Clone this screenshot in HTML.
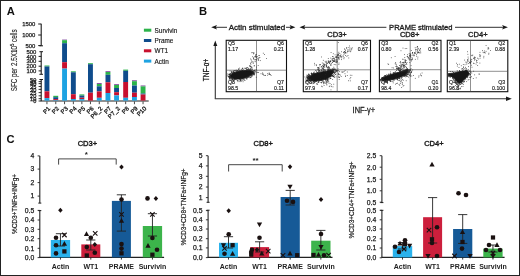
<!DOCTYPE html>
<html><head><meta charset="utf-8"><style>
html,body{margin:0;padding:0;background:#fff;}
svg{display:block;will-change:transform;}
text{font-family:"Liberation Sans",sans-serif;}
</style></head><body>
<svg width="520" height="276" viewBox="0 0 520 276">
<rect width="520" height="276" fill="#fff"/>
<rect x="0.5" y="0.5" width="519" height="275" fill="none" stroke="#222" stroke-width="1"/>
<text x="6.7" y="14.8" font-size="11.2" text-anchor="start" font-weight="bold" fill="#111" >A</text>
<g transform="translate(17.2,60.3) rotate(-90)"><g transform="scale(0.77,1)"><text x="0" y="0" font-size="8.2" text-anchor="middle" fill="#1a1a1a" stroke="#1a1a1a" stroke-width="0.12">SFC per 2.5X10<tspan font-size="5.5" dy="-3">5</tspan><tspan dy="3"> cells</tspan></text></g></g>
<line x1="41.2" y1="23.8" x2="41.2" y2="45.8" stroke="#1a1a1a" stroke-width="1.1"/>
<line x1="38.2" y1="24" x2="41.2" y2="24" stroke="#1a1a1a" stroke-width="1"/>
<text x="35.3" y="26.1" font-size="5.9" text-anchor="end" font-weight="normal" fill="#1a1a1a" stroke="#1a1a1a" stroke-width="0.25" >1500</text>
<line x1="38.2" y1="35" x2="41.2" y2="35" stroke="#1a1a1a" stroke-width="1"/>
<text x="35.3" y="37.1" font-size="5.9" text-anchor="end" font-weight="normal" fill="#1a1a1a" stroke="#1a1a1a" stroke-width="0.25" >1000</text>
<line x1="38.2" y1="45.6" x2="41.2" y2="45.6" stroke="#1a1a1a" stroke-width="1"/>
<text x="35.3" y="47.7" font-size="5.9" text-anchor="end" font-weight="normal" fill="#1a1a1a" stroke="#1a1a1a" stroke-width="0.25" >500</text>
<line x1="39.4" y1="45.8" x2="43" y2="45.8" stroke="#1a1a1a" stroke-width="1"/>
<line x1="41.2" y1="51.7" x2="41.2" y2="74.3" stroke="#1a1a1a" stroke-width="1.1"/>
<line x1="39.4" y1="51.7" x2="43" y2="51.7" stroke="#1a1a1a" stroke-width="1"/>
<text x="36.3" y="53.800000000000004" font-size="5.9" text-anchor="end" font-weight="normal" fill="#1a1a1a" stroke="#1a1a1a" stroke-width="0.25" >500</text>
<line x1="38.6" y1="56.4" x2="41.2" y2="56.4" stroke="#1a1a1a" stroke-width="1"/>
<text x="36.3" y="58.5" font-size="5.9" text-anchor="end" font-weight="normal" fill="#1a1a1a" stroke="#1a1a1a" stroke-width="0.25" >400</text>
<line x1="38.6" y1="61.3" x2="41.2" y2="61.3" stroke="#1a1a1a" stroke-width="1"/>
<text x="36.3" y="63.4" font-size="5.9" text-anchor="end" font-weight="normal" fill="#1a1a1a" stroke="#1a1a1a" stroke-width="0.25" >300</text>
<line x1="38.6" y1="66.2" x2="41.2" y2="66.2" stroke="#1a1a1a" stroke-width="1"/>
<text x="36.3" y="68.3" font-size="5.9" text-anchor="end" font-weight="normal" fill="#1a1a1a" stroke="#1a1a1a" stroke-width="0.25" >200</text>
<line x1="38.6" y1="70.9" x2="41.2" y2="70.9" stroke="#1a1a1a" stroke-width="1"/>
<text x="36.3" y="73.0" font-size="5.9" text-anchor="end" font-weight="normal" fill="#1a1a1a" stroke="#1a1a1a" stroke-width="0.25" >100</text>
<line x1="39.4" y1="74.3" x2="43" y2="74.3" stroke="#1a1a1a" stroke-width="1"/>
<line x1="41.2" y1="79.5" x2="41.2" y2="101" stroke="#1a1a1a" stroke-width="1.1"/>
<line x1="39.4" y1="79.5" x2="43" y2="79.5" stroke="#1a1a1a" stroke-width="1"/>
<text x="36.3" y="81.6" font-size="5.6" text-anchor="end" font-weight="normal" fill="#1a1a1a" stroke="#1a1a1a" stroke-width="0.25" >50</text>
<line x1="38.6" y1="81.6" x2="41.2" y2="81.6" stroke="#1a1a1a" stroke-width="0.9"/>
<text x="36.3" y="83.69999999999999" font-size="5.6" text-anchor="end" font-weight="normal" fill="#1a1a1a" stroke="#1a1a1a" stroke-width="0.25" >45</text>
<line x1="38.6" y1="83.6" x2="41.2" y2="83.6" stroke="#1a1a1a" stroke-width="0.9"/>
<text x="36.3" y="85.69999999999999" font-size="5.6" text-anchor="end" font-weight="normal" fill="#1a1a1a" stroke="#1a1a1a" stroke-width="0.25" >40</text>
<line x1="38.6" y1="86.5" x2="41.2" y2="86.5" stroke="#1a1a1a" stroke-width="0.9"/>
<text x="36.3" y="88.6" font-size="5.6" text-anchor="end" font-weight="normal" fill="#1a1a1a" stroke="#1a1a1a" stroke-width="0.25" >35</text>
<line x1="38.6" y1="89.4" x2="41.2" y2="89.4" stroke="#1a1a1a" stroke-width="0.9"/>
<text x="36.3" y="91.5" font-size="5.6" text-anchor="end" font-weight="normal" fill="#1a1a1a" stroke="#1a1a1a" stroke-width="0.25" >30</text>
<line x1="38.6" y1="92.6" x2="41.2" y2="92.6" stroke="#1a1a1a" stroke-width="0.9"/>
<text x="36.3" y="94.69999999999999" font-size="5.6" text-anchor="end" font-weight="normal" fill="#1a1a1a" stroke="#1a1a1a" stroke-width="0.25" >25</text>
<line x1="38.6" y1="95.8" x2="41.2" y2="95.8" stroke="#1a1a1a" stroke-width="0.9"/>
<text x="36.3" y="97.89999999999999" font-size="5.6" text-anchor="end" font-weight="normal" fill="#1a1a1a" stroke="#1a1a1a" stroke-width="0.25" >20</text>
<line x1="38.6" y1="98.7" x2="41.2" y2="98.7" stroke="#1a1a1a" stroke-width="0.9"/>
<text x="36.3" y="100.8" font-size="5.6" text-anchor="end" font-weight="normal" fill="#1a1a1a" stroke="#1a1a1a" stroke-width="0.25" >10</text>
<line x1="38.6" y1="101" x2="41.2" y2="101" stroke="#1a1a1a" stroke-width="0.9"/>
<text x="36.3" y="103.1" font-size="5.6" text-anchor="end" font-weight="normal" fill="#1a1a1a" stroke="#1a1a1a" stroke-width="0.25" >0</text>
<line x1="40.7" y1="101" x2="148.7" y2="101" stroke="#222" stroke-width="1.1"/>
<rect x="44.5" y="65.5" width="4.9" height="1.0" fill="#2cb34a"/>
<rect x="44.5" y="66.5" width="4.9" height="24.8" fill="#0f4c8c"/>
<rect x="44.5" y="91.3" width="4.9" height="6.8" fill="#c8102e"/>
<rect x="44.5" y="98.1" width="4.9" height="2.5" fill="#1ea3e2"/>
<line x1="46.95" y1="101.5" x2="46.95" y2="104.2" stroke="#333" stroke-width="0.9"/>
<text transform="translate(50.650000000000006,109.0) rotate(-45)" font-size="6.0" text-anchor="end" fill="#1a1a1a" stroke="#1a1a1a" stroke-width="0.3">P1</text>
<rect x="53.3" y="95.8" width="4.9" height="1.4" fill="#2cb34a"/>
<rect x="53.3" y="97.2" width="4.9" height="1.9" fill="#0f4c8c"/>
<rect x="53.3" y="99.1" width="4.9" height="1.0" fill="#c8102e"/>
<rect x="53.3" y="100.1" width="4.9" height="0.5" fill="#1ea3e2"/>
<line x1="55.75" y1="101.5" x2="55.75" y2="104.2" stroke="#333" stroke-width="0.9"/>
<text transform="translate(59.45,109.0) rotate(-45)" font-size="6.0" text-anchor="end" fill="#1a1a1a" stroke="#1a1a1a" stroke-width="0.3">P2</text>
<rect x="62.1" y="39.6" width="4.9" height="0.6" fill="#7b3f98"/>
<rect x="62.1" y="40.2" width="4.9" height="3.0" fill="#2cb34a"/>
<rect x="62.1" y="43.2" width="4.9" height="19.0" fill="#0f4c8c"/>
<rect x="62.1" y="62.2" width="4.9" height="6.4" fill="#c8102e"/>
<rect x="62.1" y="68.6" width="4.9" height="32.0" fill="#1ea3e2"/>
<line x1="64.55" y1="101.5" x2="64.55" y2="104.2" stroke="#333" stroke-width="0.9"/>
<text transform="translate(68.25,109.0) rotate(-45)" font-size="6.0" text-anchor="end" fill="#1a1a1a" stroke="#1a1a1a" stroke-width="0.3">P3</text>
<rect x="70.9" y="71.3" width="4.9" height="1.0" fill="#2cb34a"/>
<rect x="70.9" y="72.3" width="4.9" height="21.9" fill="#0f4c8c"/>
<rect x="70.9" y="94.2" width="4.9" height="4.8" fill="#c8102e"/>
<rect x="70.9" y="99" width="4.9" height="1.6" fill="#1ea3e2"/>
<line x1="73.35000000000001" y1="101.5" x2="73.35000000000001" y2="104.2" stroke="#333" stroke-width="0.9"/>
<text transform="translate(77.05000000000001,109.0) rotate(-45)" font-size="6.0" text-anchor="end" fill="#1a1a1a" stroke="#1a1a1a" stroke-width="0.3">P4</text>
<rect x="79.4" y="94.4" width="4.9" height="1.2" fill="#2cb34a"/>
<rect x="79.4" y="95.6" width="4.9" height="2.1" fill="#0f4c8c"/>
<rect x="79.4" y="97.7" width="4.9" height="1.4" fill="#c8102e"/>
<rect x="79.4" y="99.1" width="4.9" height="1.5" fill="#1ea3e2"/>
<line x1="81.85000000000001" y1="101.5" x2="81.85000000000001" y2="104.2" stroke="#333" stroke-width="0.9"/>
<text transform="translate(85.55000000000001,109.0) rotate(-45)" font-size="6.0" text-anchor="end" fill="#1a1a1a" stroke="#1a1a1a" stroke-width="0.3">P5</text>
<rect x="88.0" y="63.2" width="4.9" height="1.0" fill="#2cb34a"/>
<rect x="88.0" y="64.2" width="4.9" height="28.5" fill="#0f4c8c"/>
<rect x="88.0" y="92.7" width="4.9" height="7.9" fill="#c8102e"/>
<line x1="90.45" y1="101.5" x2="90.45" y2="104.2" stroke="#333" stroke-width="0.9"/>
<text transform="translate(94.15,109.0) rotate(-45)" font-size="6.0" text-anchor="end" fill="#1a1a1a" stroke="#1a1a1a" stroke-width="0.3">P6</text>
<rect x="96.8" y="83.1" width="4.9" height="0.9" fill="#7b3f98"/>
<rect x="96.8" y="84.0" width="4.9" height="2.3" fill="#2cb34a"/>
<rect x="96.8" y="86.3" width="4.9" height="5.1" fill="#0f4c8c"/>
<rect x="96.8" y="91.4" width="4.9" height="6.4" fill="#c8102e"/>
<rect x="96.8" y="97.8" width="4.9" height="2.8" fill="#1ea3e2"/>
<line x1="99.25" y1="101.5" x2="99.25" y2="104.2" stroke="#333" stroke-width="0.9"/>
<text transform="translate(102.95,109.0) rotate(-45)" font-size="6.0" text-anchor="end" fill="#1a1a1a" stroke="#1a1a1a" stroke-width="0.3">P6_2</text>
<rect x="105.5" y="71.2" width="4.9" height="0.8" fill="#7b3f98"/>
<rect x="105.5" y="72.0" width="4.9" height="2.8" fill="#2cb34a"/>
<rect x="105.5" y="74.8" width="4.9" height="7.5" fill="#0f4c8c"/>
<rect x="105.5" y="82.3" width="4.9" height="10.7" fill="#c8102e"/>
<rect x="105.5" y="93" width="4.9" height="7.6" fill="#1ea3e2"/>
<line x1="107.95" y1="101.5" x2="107.95" y2="104.2" stroke="#333" stroke-width="0.9"/>
<text transform="translate(111.65,109.0) rotate(-45)" font-size="6.0" text-anchor="end" fill="#1a1a1a" stroke="#1a1a1a" stroke-width="0.3">P7</text>
<rect x="114.1" y="84.2" width="4.9" height="0.8" fill="#7b3f98"/>
<rect x="114.1" y="85.0" width="4.9" height="3.0" fill="#2cb34a"/>
<rect x="114.1" y="88" width="4.9" height="4.2" fill="#0f4c8c"/>
<rect x="114.1" y="92.2" width="4.9" height="3.2" fill="#c8102e"/>
<rect x="114.1" y="95.4" width="4.9" height="5.2" fill="#1ea3e2"/>
<line x1="116.55" y1="101.5" x2="116.55" y2="104.2" stroke="#333" stroke-width="0.9"/>
<text transform="translate(120.25,109.0) rotate(-45)" font-size="6.0" text-anchor="end" fill="#1a1a1a" stroke="#1a1a1a" stroke-width="0.3">P7_2</text>
<rect x="123.2" y="69.6" width="4.9" height="1.2" fill="#2cb34a"/>
<rect x="123.2" y="70.8" width="4.9" height="11.2" fill="#0f4c8c"/>
<rect x="123.2" y="82" width="4.9" height="15.8" fill="#c8102e"/>
<rect x="123.2" y="97.8" width="4.9" height="2.8" fill="#1ea3e2"/>
<line x1="125.65" y1="101.5" x2="125.65" y2="104.2" stroke="#333" stroke-width="0.9"/>
<text transform="translate(129.35,109.0) rotate(-45)" font-size="6.0" text-anchor="end" fill="#1a1a1a" stroke="#1a1a1a" stroke-width="0.3">P8</text>
<rect x="132.0" y="80.3" width="4.9" height="0.9" fill="#7b3f98"/>
<rect x="132.0" y="81.2" width="4.9" height="4.3" fill="#2cb34a"/>
<rect x="132.0" y="85.5" width="4.9" height="7.2" fill="#0f4c8c"/>
<rect x="132.0" y="92.7" width="4.9" height="4.3" fill="#c8102e"/>
<rect x="132.0" y="97" width="4.9" height="3.6" fill="#1ea3e2"/>
<line x1="134.45" y1="101.5" x2="134.45" y2="104.2" stroke="#333" stroke-width="0.9"/>
<text transform="translate(138.14999999999998,109.0) rotate(-45)" font-size="6.0" text-anchor="end" fill="#1a1a1a" stroke="#1a1a1a" stroke-width="0.3">P9</text>
<rect x="140.6" y="85.5" width="4.9" height="0.9" fill="#7b3f98"/>
<rect x="140.6" y="86.4" width="4.9" height="7.1" fill="#2cb34a"/>
<rect x="140.6" y="93.5" width="4.9" height="1.0" fill="#0f4c8c"/>
<rect x="140.6" y="94.5" width="4.9" height="6.1" fill="#c8102e"/>
<line x1="143.04999999999998" y1="101.5" x2="143.04999999999998" y2="104.2" stroke="#333" stroke-width="0.9"/>
<text transform="translate(146.74999999999997,109.0) rotate(-45)" font-size="6.0" text-anchor="end" fill="#1a1a1a" stroke="#1a1a1a" stroke-width="0.3">P10</text>
<rect x="143.9" y="28.7" width="7.4" height="3.0" fill="#2cb34a"/>
<text x="154.6" y="32.7" font-size="6.4" text-anchor="start" font-weight="normal" fill="#1a1a1a" stroke="#1a1a1a" stroke-width="0.15" >Survivin</text>
<rect x="143.9" y="39.0" width="7.4" height="3.0" fill="#0f4c8c"/>
<text x="154.6" y="43.0" font-size="6.4" text-anchor="start" font-weight="normal" fill="#1a1a1a" stroke="#1a1a1a" stroke-width="0.15" >Prame</text>
<rect x="143.9" y="49.3" width="7.4" height="3.0" fill="#c8102e"/>
<text x="154.6" y="53.3" font-size="6.4" text-anchor="start" font-weight="normal" fill="#1a1a1a" stroke="#1a1a1a" stroke-width="0.15" >WT1</text>
<rect x="143.9" y="59.6" width="7.4" height="3.0" fill="#1ea3e2"/>
<text x="154.6" y="63.6" font-size="6.4" text-anchor="start" font-weight="normal" fill="#1a1a1a" stroke="#1a1a1a" stroke-width="0.15" >Actin</text>
<text x="198.9" y="14.8" font-size="11.2" text-anchor="start" font-weight="bold" fill="#111" >B</text>
<path d="M211.2,27.3 L217.0,25.1 L215.79999999999998,27.3 L217.0,29.5 Z" fill="#1a1a1a"/>
<line x1="214" y1="27.3" x2="227" y2="27.3" stroke="#1a1a1a" stroke-width="0.9"/>
<text x="257.0" y="30.0" font-size="7.8" text-anchor="middle" font-weight="normal" fill="#1a1a1a" stroke="#1a1a1a" stroke-width="0.3" textLength="56.6" lengthAdjust="spacingAndGlyphs">Actin stimulated</text>
<line x1="286" y1="27.3" x2="293" y2="27.3" stroke="#1a1a1a" stroke-width="0.9"/>
<path d="M295.4,27.3 L289.59999999999997,25.1 L290.79999999999995,27.3 L289.59999999999997,29.5 Z" fill="#1a1a1a"/>
<path d="M299.5,27.3 L305.3,25.1 L304.1,27.3 L305.3,29.5 Z" fill="#1a1a1a"/>
<line x1="302" y1="27.3" x2="386.4" y2="27.3" stroke="#1a1a1a" stroke-width="0.9"/>
<text x="420.8" y="30.0" font-size="7.6" text-anchor="middle" font-weight="normal" fill="#1a1a1a" stroke="#1a1a1a" stroke-width="0.3" textLength="63.4" lengthAdjust="spacingAndGlyphs">PRAME stimulated</text>
<line x1="455" y1="27.3" x2="505" y2="27.3" stroke="#1a1a1a" stroke-width="0.9"/>
<path d="M507.9,27.3 L502.09999999999997,25.1 L503.29999999999995,27.3 L502.09999999999997,29.5 Z" fill="#1a1a1a"/>
<text x="337" y="36.8" font-size="7.7" text-anchor="middle" font-weight="normal" fill="#1a1a1a" stroke="#1a1a1a" stroke-width="0.35" textLength="19.6" lengthAdjust="spacingAndGlyphs">CD3+</text>
<text x="409.7" y="36.8" font-size="7.7" text-anchor="middle" font-weight="normal" fill="#1a1a1a" stroke="#1a1a1a" stroke-width="0.35" textLength="19.6" lengthAdjust="spacingAndGlyphs">CD8+</text>
<text x="477.8" y="36.8" font-size="7.7" text-anchor="middle" font-weight="normal" fill="#1a1a1a" stroke="#1a1a1a" stroke-width="0.35" textLength="19.6" lengthAdjust="spacingAndGlyphs">CD4+</text>
<line x1="215.3" y1="43" x2="215.3" y2="98.8" stroke="#333" stroke-width="1.1"/>
<path d="M215.3,40.6 L213.3,46 L217.3,46 Z" fill="#1a1a1a"/>
<line x1="214.8" y1="98.8" x2="508" y2="98.8" stroke="#333" stroke-width="1.1"/>
<path d="M511.8,98.8 L506,96.6 L506,101 Z" fill="#1a1a1a"/>
<g transform="translate(209.1,69.9) rotate(-90)"><g transform="scale(0.80,1)"><text x="0" y="0" font-size="8.2" text-anchor="middle" fill="#1a1a1a" stroke="#1a1a1a" stroke-width="0.25">TNF-α+</text></g></g>
<g transform="translate(363.9,112.8)"><g transform="scale(0.87,1)"><text x="0" y="0" font-size="8.6" text-anchor="middle" fill="#1a1a1a" stroke="#1a1a1a" stroke-width="0.25">INF-γ+</text></g></g>
<rect x="226.2" y="40.3" width="60.30000000000001" height="51.400000000000006" fill="none" stroke="#111" stroke-width="1.1"/>
<line x1="256.5" y1="40.3" x2="256.5" y2="91.7" stroke="#444" stroke-width="0.6"/>
<line x1="226.2" y1="70.2" x2="286.5" y2="70.2" stroke="#444" stroke-width="0.6"/>
<polygon points="230,75.2 233,73.2 236,71.9 240,71.0 244,70.6 250,70.6 253.4,71.8 252,74.5 248,76.8 244,78.2 240,79.0 234,79.1 230.6,77.5" fill="#161616" stroke="#161616" stroke-width="0.8" stroke-linejoin="round"/>
<rect x="228.9" y="74.9" width="0.75" height="0.75" fill="#222"/>
<rect x="244.8" y="77.6" width="0.75" height="0.75" fill="#222"/>
<rect x="233.0" y="71.9" width="0.75" height="0.75" fill="#222"/>
<rect x="253.0" y="72.5" width="0.75" height="0.75" fill="#222"/>
<rect x="238.8" y="81.3" width="0.75" height="0.75" fill="#222"/>
<rect x="247.7" y="75.6" width="0.75" height="0.75" fill="#222"/>
<rect x="235.1" y="78.7" width="0.75" height="0.75" fill="#222"/>
<rect x="232.1" y="78.8" width="0.75" height="0.75" fill="#222"/>
<rect x="252.9" y="73.7" width="0.75" height="0.75" fill="#222"/>
<rect x="229.0" y="74.3" width="0.75" height="0.75" fill="#222"/>
<rect x="252.2" y="73.7" width="0.75" height="0.75" fill="#222"/>
<rect x="232.4" y="71.6" width="0.75" height="0.75" fill="#222"/>
<rect x="239.1" y="71.3" width="0.75" height="0.75" fill="#222"/>
<rect x="233.9" y="72.0" width="0.75" height="0.75" fill="#222"/>
<rect x="251.4" y="75.2" width="0.75" height="0.75" fill="#222"/>
<rect x="252.0" y="69.2" width="0.75" height="0.75" fill="#222"/>
<rect x="231.1" y="72.1" width="0.75" height="0.75" fill="#222"/>
<rect x="246.4" y="77.3" width="0.75" height="0.75" fill="#222"/>
<rect x="240.3" y="69.9" width="0.75" height="0.75" fill="#222"/>
<rect x="251.4" y="75.3" width="0.75" height="0.75" fill="#222"/>
<rect x="229.8" y="76.2" width="0.75" height="0.75" fill="#222"/>
<rect x="231.7" y="79.3" width="0.75" height="0.75" fill="#222"/>
<rect x="253.5" y="71.5" width="0.75" height="0.75" fill="#222"/>
<rect x="229.0" y="76.8" width="0.75" height="0.75" fill="#222"/>
<rect x="230.1" y="77.5" width="0.75" height="0.75" fill="#222"/>
<rect x="252.7" y="71.6" width="0.75" height="0.75" fill="#222"/>
<rect x="230.6" y="77.3" width="0.75" height="0.75" fill="#222"/>
<rect x="254.4" y="69.9" width="0.75" height="0.75" fill="#222"/>
<rect x="230.6" y="79.6" width="0.75" height="0.75" fill="#222"/>
<rect x="245.3" y="70.6" width="0.75" height="0.75" fill="#222"/>
<rect x="237.3" y="70.3" width="0.75" height="0.75" fill="#222"/>
<rect x="228.9" y="75.6" width="0.75" height="0.75" fill="#222"/>
<rect x="244.6" y="80.1" width="0.75" height="0.75" fill="#222"/>
<rect x="231.6" y="78.7" width="0.75" height="0.75" fill="#222"/>
<rect x="234.8" y="70.7" width="0.75" height="0.75" fill="#222"/>
<rect x="250.0" y="77.1" width="0.75" height="0.75" fill="#222"/>
<rect x="251.2" y="75.8" width="0.75" height="0.75" fill="#222"/>
<rect x="230.8" y="71.7" width="0.75" height="0.75" fill="#222"/>
<rect x="250.8" y="70.1" width="0.75" height="0.75" fill="#222"/>
<rect x="246.5" y="78.9" width="0.75" height="0.75" fill="#222"/>
<rect x="239.8" y="79.6" width="0.75" height="0.75" fill="#222"/>
<rect x="239.4" y="79.4" width="0.75" height="0.75" fill="#222"/>
<rect x="228.4" y="76.4" width="0.75" height="0.75" fill="#222"/>
<rect x="238.4" y="71.0" width="0.75" height="0.75" fill="#222"/>
<rect x="230.7" y="77.2" width="0.75" height="0.75" fill="#222"/>
<rect x="253.5" y="73.7" width="0.75" height="0.75" fill="#222"/>
<rect x="231.2" y="79.8" width="0.75" height="0.75" fill="#222"/>
<rect x="229.4" y="77.4" width="0.75" height="0.75" fill="#222"/>
<rect x="250.5" y="69.9" width="0.75" height="0.75" fill="#222"/>
<rect x="235.6" y="78.3" width="0.75" height="0.75" fill="#222"/>
<rect x="252.1" y="70.5" width="0.75" height="0.75" fill="#222"/>
<rect x="246.1" y="78.2" width="0.75" height="0.75" fill="#222"/>
<rect x="250.1" y="68.8" width="0.75" height="0.75" fill="#222"/>
<rect x="230.2" y="73.9" width="0.75" height="0.75" fill="#222"/>
<rect x="250.2" y="75.5" width="0.75" height="0.75" fill="#222"/>
<rect x="229.7" y="70.6" width="0.75" height="0.75" fill="#222"/>
<rect x="243.2" y="79.0" width="0.75" height="0.75" fill="#222"/>
<rect x="242.9" y="68.9" width="0.75" height="0.75" fill="#222"/>
<rect x="233.5" y="78.8" width="0.75" height="0.75" fill="#222"/>
<rect x="231.8" y="71.8" width="0.75" height="0.75" fill="#222"/>
<rect x="231.9" y="77.6" width="0.75" height="0.75" fill="#222"/>
<rect x="233.6" y="70.5" width="0.75" height="0.75" fill="#222"/>
<rect x="232.0" y="78.4" width="0.75" height="0.75" fill="#222"/>
<rect x="247.3" y="77.4" width="0.75" height="0.75" fill="#222"/>
<rect x="249.5" y="77.4" width="0.75" height="0.75" fill="#222"/>
<rect x="228.9" y="78.9" width="0.75" height="0.75" fill="#222"/>
<rect x="233.4" y="72.2" width="0.75" height="0.75" fill="#222"/>
<rect x="233.2" y="80.4" width="0.75" height="0.75" fill="#222"/>
<rect x="245.8" y="68.0" width="0.75" height="0.75" fill="#222"/>
<rect x="253.4" y="70.7" width="0.75" height="0.75" fill="#222"/>
<rect x="241.3" y="69.5" width="0.75" height="0.75" fill="#222"/>
<rect x="232.2" y="79.0" width="0.75" height="0.75" fill="#222"/>
<rect x="239.3" y="67.7" width="0.75" height="0.75" fill="#222"/>
<rect x="233.6" y="72.5" width="0.75" height="0.75" fill="#222"/>
<rect x="240.1" y="79.0" width="0.75" height="0.75" fill="#222"/>
<rect x="235.8" y="69.7" width="0.75" height="0.75" fill="#222"/>
<rect x="239.8" y="79.9" width="0.75" height="0.75" fill="#222"/>
<rect x="229.2" y="74.1" width="0.75" height="0.75" fill="#222"/>
<rect x="237.5" y="80.0" width="0.75" height="0.75" fill="#222"/>
<rect x="234.4" y="72.0" width="0.75" height="0.75" fill="#222"/>
<rect x="235.6" y="79.2" width="0.75" height="0.75" fill="#222"/>
<rect x="252.9" y="73.1" width="0.75" height="0.75" fill="#222"/>
<rect x="250.7" y="77.3" width="0.75" height="0.75" fill="#222"/>
<rect x="241.0" y="78.2" width="0.75" height="0.75" fill="#222"/>
<rect x="248.8" y="70.2" width="0.75" height="0.75" fill="#222"/>
<rect x="233.4" y="79.7" width="0.75" height="0.75" fill="#222"/>
<rect x="242.9" y="78.1" width="0.75" height="0.75" fill="#222"/>
<rect x="236.8" y="79.9" width="0.75" height="0.75" fill="#222"/>
<rect x="254.1" y="74.5" width="0.75" height="0.75" fill="#222"/>
<rect x="233.4" y="70.6" width="0.75" height="0.75" fill="#222"/>
<rect x="241.8" y="68.3" width="0.75" height="0.75" fill="#222"/>
<rect x="240.9" y="80.7" width="0.75" height="0.75" fill="#222"/>
<rect x="246.9" y="67.3" width="0.75" height="0.75" fill="#222"/>
<rect x="242.7" y="81.4" width="0.75" height="0.75" fill="#222"/>
<rect x="255.0" y="70.9" width="0.75" height="0.75" fill="#222"/>
<rect x="245.7" y="76.8" width="0.75" height="0.75" fill="#222"/>
<rect x="229.1" y="73.5" width="0.75" height="0.75" fill="#222"/>
<rect x="252.2" y="72.3" width="0.75" height="0.75" fill="#222"/>
<rect x="239.0" y="69.7" width="0.75" height="0.75" fill="#222"/>
<rect x="248.9" y="69.5" width="0.75" height="0.75" fill="#222"/>
<rect x="244.3" y="77.5" width="0.75" height="0.75" fill="#222"/>
<rect x="231.0" y="78.2" width="0.75" height="0.75" fill="#222"/>
<rect x="253.2" y="73.4" width="0.75" height="0.75" fill="#222"/>
<rect x="229.6" y="78.1" width="0.75" height="0.75" fill="#222"/>
<rect x="230.0" y="78.6" width="0.75" height="0.75" fill="#222"/>
<rect x="247.0" y="77.2" width="0.75" height="0.75" fill="#222"/>
<rect x="242.2" y="69.9" width="0.75" height="0.75" fill="#222"/>
<rect x="251.6" y="68.1" width="0.75" height="0.75" fill="#222"/>
<rect x="243.9" y="67.8" width="0.75" height="0.75" fill="#222"/>
<rect x="227.5" y="75.3" width="0.75" height="0.75" fill="#222"/>
<rect x="256.2" y="68.8" width="0.75" height="0.75" fill="#222"/>
<rect x="252.0" y="72.9" width="0.75" height="0.75" fill="#222"/>
<rect x="249.7" y="69.2" width="0.75" height="0.75" fill="#222"/>
<rect x="249.1" y="75.6" width="0.75" height="0.75" fill="#222"/>
<rect x="241.6" y="70.9" width="0.75" height="0.75" fill="#222"/>
<rect x="229.1" y="74.0" width="0.75" height="0.75" fill="#222"/>
<rect x="229.5" y="76.4" width="0.75" height="0.75" fill="#222"/>
<rect x="236.4" y="70.7" width="0.75" height="0.75" fill="#222"/>
<rect x="233.8" y="71.7" width="0.75" height="0.75" fill="#222"/>
<rect x="227.8" y="74.2" width="0.75" height="0.75" fill="#222"/>
<rect x="246.5" y="70.1" width="0.75" height="0.75" fill="#222"/>
<rect x="246.6" y="68.9" width="0.75" height="0.75" fill="#222"/>
<rect x="234.6" y="70.3" width="0.75" height="0.75" fill="#222"/>
<rect x="230.4" y="73.3" width="0.75" height="0.75" fill="#222"/>
<rect x="241.5" y="69.7" width="0.75" height="0.75" fill="#222"/>
<rect x="237.9" y="69.7" width="0.75" height="0.75" fill="#222"/>
<rect x="229.4" y="78.3" width="0.75" height="0.75" fill="#222"/>
<rect x="232.3" y="72.5" width="0.75" height="0.75" fill="#222"/>
<rect x="233.3" y="71.0" width="0.75" height="0.75" fill="#222"/>
<rect x="256.6" y="70.6" width="0.75" height="0.75" fill="#222"/>
<rect x="253.6" y="74.4" width="0.75" height="0.75" fill="#222"/>
<rect x="240.2" y="80.2" width="0.75" height="0.75" fill="#222"/>
<rect x="232.5" y="79.1" width="0.75" height="0.75" fill="#222"/>
<rect x="229.9" y="73.0" width="0.75" height="0.75" fill="#222"/>
<rect x="238.8" y="70.0" width="0.75" height="0.75" fill="#222"/>
<rect x="227.5" y="73.5" width="0.75" height="0.75" fill="#222"/>
<rect x="237.5" y="79.9" width="0.75" height="0.75" fill="#222"/>
<rect x="253.6" y="73.4" width="0.75" height="0.75" fill="#222"/>
<rect x="232.5" y="73.0" width="0.75" height="0.75" fill="#222"/>
<rect x="230.8" y="78.3" width="0.75" height="0.75" fill="#222"/>
<rect x="249.0" y="70.1" width="0.75" height="0.75" fill="#222"/>
<rect x="252.3" y="73.6" width="0.75" height="0.75" fill="#222"/>
<rect x="240.4" y="81.3" width="0.75" height="0.75" fill="#222"/>
<rect x="229.1" y="78.1" width="0.75" height="0.75" fill="#222"/>
<rect x="254.7" y="71.7" width="0.75" height="0.75" fill="#222"/>
<rect x="241.6" y="78.9" width="0.75" height="0.75" fill="#222"/>
<rect x="228.8" y="74.2" width="0.75" height="0.75" fill="#222"/>
<rect x="254.0" y="70.7" width="0.75" height="0.75" fill="#222"/>
<rect x="231.4" y="70.8" width="0.75" height="0.75" fill="#222"/>
<rect x="252.4" y="72.5" width="0.75" height="0.75" fill="#222"/>
<rect x="252.7" y="73.0" width="0.75" height="0.75" fill="#222"/>
<rect x="230.1" y="77.4" width="0.75" height="0.75" fill="#222"/>
<rect x="247.5" y="69.6" width="0.75" height="0.75" fill="#222"/>
<rect x="235.9" y="78.6" width="0.75" height="0.75" fill="#222"/>
<rect x="247.4" y="69.2" width="0.75" height="0.75" fill="#222"/>
<rect x="237.0" y="70.0" width="0.75" height="0.75" fill="#222"/>
<rect x="238.2" y="71.0" width="0.75" height="0.75" fill="#222"/>
<rect x="241.7" y="80.0" width="0.75" height="0.75" fill="#222"/>
<rect x="248.3" y="76.9" width="0.75" height="0.75" fill="#222"/>
<rect x="234.6" y="70.2" width="0.75" height="0.75" fill="#222"/>
<rect x="229.1" y="77.4" width="0.75" height="0.75" fill="#222"/>
<rect x="227.7" y="76.1" width="0.75" height="0.75" fill="#222"/>
<rect x="251.0" y="73.7" width="0.75" height="0.75" fill="#222"/>
<rect x="242.0" y="70.3" width="0.75" height="0.75" fill="#222"/>
<rect x="246.8" y="69.8" width="0.75" height="0.75" fill="#222"/>
<rect x="253.1" y="72.0" width="0.75" height="0.75" fill="#222"/>
<rect x="231.2" y="71.5" width="0.75" height="0.75" fill="#222"/>
<rect x="245.7" y="70.1" width="0.75" height="0.75" fill="#222"/>
<rect x="231.1" y="72.8" width="0.75" height="0.75" fill="#222"/>
<rect x="252.2" y="71.3" width="0.75" height="0.75" fill="#222"/>
<rect x="248.9" y="69.6" width="0.75" height="0.75" fill="#222"/>
<rect x="237.5" y="81.3" width="0.75" height="0.75" fill="#222"/>
<rect x="253.7" y="73.5" width="0.75" height="0.75" fill="#222"/>
<rect x="229.2" y="74.2" width="0.75" height="0.75" fill="#222"/>
<rect x="229.1" y="76.1" width="0.75" height="0.75" fill="#222"/>
<rect x="229.0" y="77.1" width="0.75" height="0.75" fill="#222"/>
<rect x="245.6" y="77.8" width="0.75" height="0.75" fill="#222"/>
<rect x="238.3" y="69.3" width="0.75" height="0.75" fill="#222"/>
<rect x="254.7" y="69.5" width="0.75" height="0.75" fill="#222"/>
<rect x="232.0" y="72.9" width="0.75" height="0.75" fill="#222"/>
<rect x="252.8" y="70.3" width="0.75" height="0.75" fill="#222"/>
<rect x="252.4" y="72.9" width="0.75" height="0.75" fill="#222"/>
<rect x="242.3" y="68.2" width="0.75" height="0.75" fill="#222"/>
<rect x="236.4" y="71.4" width="0.75" height="0.75" fill="#222"/>
<rect x="241.7" y="79.4" width="0.75" height="0.75" fill="#222"/>
<rect x="244.1" y="78.8" width="0.75" height="0.75" fill="#222"/>
<rect x="250.5" y="74.2" width="0.75" height="0.75" fill="#222"/>
<rect x="251.6" y="76.0" width="0.75" height="0.75" fill="#222"/>
<rect x="242.3" y="67.7" width="0.75" height="0.75" fill="#222"/>
<rect x="253.5" y="73.9" width="0.75" height="0.75" fill="#222"/>
<rect x="246.5" y="69.3" width="0.75" height="0.75" fill="#222"/>
<rect x="235.9" y="70.0" width="0.75" height="0.75" fill="#222"/>
<rect x="228.6" y="76.9" width="0.75" height="0.75" fill="#222"/>
<rect x="228.5" y="76.5" width="0.75" height="0.75" fill="#222"/>
<rect x="233.4" y="72.8" width="0.75" height="0.75" fill="#222"/>
<rect x="243.7" y="79.9" width="0.75" height="0.75" fill="#222"/>
<rect x="231.8" y="77.4" width="0.75" height="0.75" fill="#222"/>
<rect x="228.4" y="76.1" width="0.75" height="0.75" fill="#222"/>
<rect x="241.7" y="69.8" width="0.75" height="0.75" fill="#222"/>
<rect x="233.0" y="71.6" width="0.75" height="0.75" fill="#222"/>
<rect x="232.4" y="73.0" width="0.75" height="0.75" fill="#222"/>
<rect x="234.4" y="79.0" width="0.75" height="0.75" fill="#222"/>
<rect x="238.3" y="68.4" width="0.75" height="0.75" fill="#222"/>
<rect x="239.9" y="79.0" width="0.75" height="0.75" fill="#222"/>
<rect x="252.0" y="73.8" width="0.75" height="0.75" fill="#222"/>
<rect x="252.9" y="70.6" width="0.75" height="0.75" fill="#222"/>
<rect x="228.9" y="76.2" width="0.75" height="0.75" fill="#222"/>
<rect x="246.6" y="78.1" width="0.75" height="0.75" fill="#222"/>
<rect x="234.1" y="78.7" width="0.75" height="0.75" fill="#222"/>
<rect x="250.4" y="70.2" width="0.75" height="0.75" fill="#222"/>
<rect x="252.7" y="73.0" width="0.75" height="0.75" fill="#222"/>
<rect x="241.9" y="78.0" width="0.75" height="0.75" fill="#222"/>
<rect x="251.7" y="75.0" width="0.75" height="0.75" fill="#222"/>
<rect x="240.3" y="79.9" width="0.75" height="0.75" fill="#222"/>
<rect x="254.3" y="72.8" width="0.75" height="0.75" fill="#222"/>
<rect x="249.7" y="76.5" width="0.75" height="0.75" fill="#222"/>
<rect x="230.1" y="73.8" width="0.75" height="0.75" fill="#222"/>
<rect x="249.4" y="76.5" width="0.75" height="0.75" fill="#222"/>
<rect x="248.1" y="76.7" width="0.75" height="0.75" fill="#222"/>
<rect x="256.6" y="56.5" width="0.75" height="0.75" fill="#222"/>
<rect x="250.4" y="68.1" width="0.75" height="0.75" fill="#222"/>
<rect x="251.3" y="66.8" width="0.75" height="0.75" fill="#222"/>
<rect x="251.4" y="69.7" width="0.75" height="0.75" fill="#222"/>
<rect x="255.3" y="54.9" width="0.75" height="0.75" fill="#222"/>
<rect x="249.4" y="70.4" width="0.75" height="0.75" fill="#222"/>
<rect x="248.4" y="68.4" width="0.75" height="0.75" fill="#222"/>
<rect x="252.5" y="61.4" width="0.75" height="0.75" fill="#222"/>
<rect x="250.5" y="63.8" width="0.75" height="0.75" fill="#222"/>
<rect x="254.7" y="60.6" width="0.75" height="0.75" fill="#222"/>
<rect x="256.1" y="66.7" width="0.75" height="0.75" fill="#222"/>
<rect x="259.5" y="57.1" width="0.75" height="0.75" fill="#222"/>
<rect x="253.0" y="58.7" width="0.75" height="0.75" fill="#222"/>
<rect x="256.7" y="56.1" width="0.75" height="0.75" fill="#222"/>
<rect x="252.8" y="63.2" width="0.75" height="0.75" fill="#222"/>
<rect x="250.3" y="58.6" width="0.75" height="0.75" fill="#222"/>
<rect x="245.8" y="67.2" width="0.75" height="0.75" fill="#222"/>
<rect x="248.3" y="69.8" width="0.75" height="0.75" fill="#222"/>
<rect x="255.9" y="54.3" width="0.75" height="0.75" fill="#222"/>
<rect x="247.5" y="67.5" width="0.75" height="0.75" fill="#222"/>
<rect x="247.9" y="68.9" width="0.75" height="0.75" fill="#222"/>
<rect x="251.4" y="60.8" width="0.75" height="0.75" fill="#222"/>
<rect x="248.0" y="68.6" width="0.75" height="0.75" fill="#222"/>
<rect x="252.3" y="56.4" width="0.75" height="0.75" fill="#222"/>
<rect x="249.6" y="68.8" width="0.75" height="0.75" fill="#222"/>
<rect x="254.8" y="61.4" width="0.75" height="0.75" fill="#222"/>
<rect x="255.9" y="56.6" width="0.75" height="0.75" fill="#222"/>
<rect x="250.8" y="62.2" width="0.75" height="0.75" fill="#222"/>
<rect x="252.7" y="61.9" width="0.75" height="0.75" fill="#222"/>
<rect x="254.4" y="58.9" width="0.75" height="0.75" fill="#222"/>
<rect x="252.5" y="52.2" width="0.75" height="0.75" fill="#222"/>
<rect x="253.9" y="65.3" width="0.75" height="0.75" fill="#222"/>
<rect x="253.2" y="57.4" width="0.75" height="0.75" fill="#222"/>
<rect x="250.9" y="59.6" width="0.75" height="0.75" fill="#222"/>
<rect x="257.8" y="65.0" width="0.75" height="0.75" fill="#222"/>
<rect x="250.2" y="62.9" width="0.75" height="0.75" fill="#222"/>
<rect x="250.4" y="66.5" width="0.75" height="0.75" fill="#222"/>
<rect x="249.7" y="65.7" width="0.75" height="0.75" fill="#222"/>
<rect x="253.8" y="65.6" width="0.75" height="0.75" fill="#222"/>
<rect x="255.5" y="54.4" width="0.75" height="0.75" fill="#222"/>
<rect x="253.5" y="52.5" width="0.75" height="0.75" fill="#222"/>
<rect x="245.4" y="68.0" width="0.75" height="0.75" fill="#222"/>
<rect x="248.6" y="69.7" width="0.75" height="0.75" fill="#222"/>
<rect x="254.4" y="70.0" width="0.75" height="0.75" fill="#222"/>
<rect x="249.0" y="65.6" width="0.75" height="0.75" fill="#222"/>
<rect x="257.5" y="58.2" width="0.75" height="0.75" fill="#222"/>
<rect x="249.6" y="65.4" width="0.75" height="0.75" fill="#222"/>
<rect x="246.4" y="69.3" width="0.75" height="0.75" fill="#222"/>
<rect x="251.4" y="52.4" width="0.75" height="0.75" fill="#222"/>
<rect x="255.0" y="56.0" width="0.75" height="0.75" fill="#222"/>
<rect x="251.6" y="66.9" width="0.75" height="0.75" fill="#222"/>
<rect x="250.8" y="66.6" width="0.75" height="0.75" fill="#222"/>
<rect x="245.6" y="68.0" width="0.75" height="0.75" fill="#222"/>
<rect x="253.2" y="58.0" width="0.75" height="0.75" fill="#222"/>
<rect x="250.8" y="69.1" width="0.75" height="0.75" fill="#222"/>
<rect x="250.0" y="66.2" width="0.75" height="0.75" fill="#222"/>
<rect x="255.3" y="59.0" width="0.75" height="0.75" fill="#222"/>
<rect x="254.0" y="71.8" width="0.75" height="0.75" fill="#222"/>
<rect x="253.5" y="52.8" width="0.75" height="0.75" fill="#222"/>
<rect x="259.9" y="60.3" width="0.75" height="0.75" fill="#222"/>
<rect x="268.8" y="72.6" width="0.75" height="0.75" fill="#222"/>
<rect x="269.0" y="74.1" width="0.75" height="0.75" fill="#222"/>
<rect x="268.6" y="74.0" width="0.75" height="0.75" fill="#222"/>
<rect x="264.9" y="75.1" width="0.75" height="0.75" fill="#222"/>
<rect x="255.8" y="72.4" width="0.75" height="0.75" fill="#222"/>
<rect x="262.3" y="73.6" width="0.75" height="0.75" fill="#222"/>
<rect x="270.0" y="74.2" width="0.75" height="0.75" fill="#222"/>
<rect x="254.4" y="73.5" width="0.75" height="0.75" fill="#222"/>
<rect x="267.3" y="74.8" width="0.75" height="0.75" fill="#222"/>
<rect x="260.6" y="73.4" width="0.75" height="0.75" fill="#222"/>
<rect x="263.6" y="75.0" width="0.75" height="0.75" fill="#222"/>
<rect x="252.5" y="74.8" width="0.75" height="0.75" fill="#222"/>
<rect x="268.9" y="73.2" width="0.75" height="0.75" fill="#222"/>
<rect x="252.3" y="71.7" width="0.75" height="0.75" fill="#222"/>
<rect x="258.1" y="72.2" width="0.75" height="0.75" fill="#222"/>
<rect x="262.3" y="72.5" width="0.75" height="0.75" fill="#222"/>
<rect x="257.2" y="72.1" width="0.75" height="0.75" fill="#222"/>
<rect x="262.8" y="73.7" width="0.75" height="0.75" fill="#222"/>
<rect x="264.7" y="74.9" width="0.75" height="0.75" fill="#222"/>
<rect x="267.4" y="73.1" width="0.75" height="0.75" fill="#222"/>
<rect x="270.7" y="75.0" width="0.75" height="0.75" fill="#222"/>
<rect x="253.4" y="72.1" width="0.75" height="0.75" fill="#222"/>
<rect x="255.9" y="76.8" width="0.75" height="0.75" fill="#222"/>
<rect x="262.7" y="74.0" width="0.75" height="0.75" fill="#222"/>
<rect x="252.6" y="73.7" width="0.75" height="0.75" fill="#222"/>
<rect x="254.6" y="56.6" width="0.75" height="0.75" fill="#222"/>
<rect x="262.9" y="52.8" width="0.75" height="0.75" fill="#222"/>
<rect x="256.6" y="59.5" width="0.75" height="0.75" fill="#222"/>
<rect x="258.7" y="55.3" width="0.75" height="0.75" fill="#222"/>
<rect x="258.8" y="57.5" width="0.75" height="0.75" fill="#222"/>
<rect x="266.0" y="58.0" width="0.75" height="0.75" fill="#222"/>
<rect x="255.7" y="56.9" width="0.75" height="0.75" fill="#222"/>
<rect x="258.7" y="55.0" width="0.75" height="0.75" fill="#222"/>
<rect x="256.2" y="59.5" width="0.75" height="0.75" fill="#222"/>
<rect x="264.1" y="54.2" width="0.75" height="0.75" fill="#222"/>
<rect x="258.3" y="60.0" width="0.75" height="0.75" fill="#222"/>
<rect x="257.9" y="57.7" width="0.75" height="0.75" fill="#222"/>
<rect x="254.6" y="56.3" width="0.75" height="0.75" fill="#222"/>
<rect x="253.2" y="53.5" width="0.75" height="0.75" fill="#222"/>
<rect x="258.2" y="59.1" width="0.75" height="0.75" fill="#222"/>
<text x="228.0" y="45.3" font-size="5.2" text-anchor="start" font-weight="normal" fill="#1a1a1a" stroke="#1a1a1a" stroke-width="0.15" >Q5</text>
<text x="228.0" y="50.5" font-size="5.2" text-anchor="start" font-weight="normal" fill="#1a1a1a" stroke="#1a1a1a" stroke-width="0.15" >1.17</text>
<text x="283.8" y="45.3" font-size="5.2" text-anchor="end" font-weight="normal" fill="#1a1a1a" stroke="#1a1a1a" stroke-width="0.15" >Q6</text>
<text x="283.8" y="50.5" font-size="5.2" text-anchor="end" font-weight="normal" fill="#1a1a1a" stroke="#1a1a1a" stroke-width="0.15" >0.21</text>
<text x="228.0" y="84.2" font-size="5.2" text-anchor="start" font-weight="normal" fill="#1a1a1a" stroke="#1a1a1a" stroke-width="0.15" >Q8</text>
<text x="228.0" y="89.7" font-size="5.2" text-anchor="start" font-weight="normal" fill="#1a1a1a" stroke="#1a1a1a" stroke-width="0.15" >98.5</text>
<text x="283.8" y="84.2" font-size="5.2" text-anchor="end" font-weight="normal" fill="#1a1a1a" stroke="#1a1a1a" stroke-width="0.15" >Q7</text>
<text x="283.8" y="89.7" font-size="5.2" text-anchor="end" font-weight="normal" fill="#1a1a1a" stroke="#1a1a1a" stroke-width="0.15" >0.11</text>
<rect x="303.3" y="40.3" width="67.19999999999999" height="51.400000000000006" fill="none" stroke="#111" stroke-width="1.1"/>
<line x1="337.2" y1="40.3" x2="337.2" y2="91.7" stroke="#444" stroke-width="0.6"/>
<line x1="303.3" y1="69.8" x2="370.5" y2="69.8" stroke="#444" stroke-width="0.6"/>
<polygon points="309,77.2 311,75.5 314,73.8 320,72.2 326,71.2 330,70.6 332,70.5 333.4,72.1 331,76.2 327,78.7 321,80.3 315,81.2 311,80.3 309,79" fill="#161616" stroke="#161616" stroke-width="0.8" stroke-linejoin="round"/>
<rect x="333.1" y="71.6" width="0.75" height="0.75" fill="#222"/>
<rect x="308.1" y="78.6" width="0.75" height="0.75" fill="#222"/>
<rect x="320.8" y="82.1" width="0.75" height="0.75" fill="#222"/>
<rect x="308.4" y="80.3" width="0.75" height="0.75" fill="#222"/>
<rect x="321.0" y="82.5" width="0.75" height="0.75" fill="#222"/>
<rect x="333.0" y="68.6" width="0.75" height="0.75" fill="#222"/>
<rect x="308.8" y="76.2" width="0.75" height="0.75" fill="#222"/>
<rect x="309.1" y="79.9" width="0.75" height="0.75" fill="#222"/>
<rect x="316.5" y="70.4" width="0.75" height="0.75" fill="#222"/>
<rect x="332.3" y="72.9" width="0.75" height="0.75" fill="#222"/>
<rect x="328.0" y="78.9" width="0.75" height="0.75" fill="#222"/>
<rect x="308.2" y="76.2" width="0.75" height="0.75" fill="#222"/>
<rect x="306.3" y="80.1" width="0.75" height="0.75" fill="#222"/>
<rect x="309.2" y="74.4" width="0.75" height="0.75" fill="#222"/>
<rect x="331.8" y="70.4" width="0.75" height="0.75" fill="#222"/>
<rect x="327.9" y="68.9" width="0.75" height="0.75" fill="#222"/>
<rect x="324.9" y="70.5" width="0.75" height="0.75" fill="#222"/>
<rect x="307.9" y="79.4" width="0.75" height="0.75" fill="#222"/>
<rect x="331.0" y="69.7" width="0.75" height="0.75" fill="#222"/>
<rect x="312.4" y="73.3" width="0.75" height="0.75" fill="#222"/>
<rect x="330.4" y="77.9" width="0.75" height="0.75" fill="#222"/>
<rect x="307.8" y="77.6" width="0.75" height="0.75" fill="#222"/>
<rect x="314.1" y="81.9" width="0.75" height="0.75" fill="#222"/>
<rect x="320.9" y="69.9" width="0.75" height="0.75" fill="#222"/>
<rect x="334.7" y="70.5" width="0.75" height="0.75" fill="#222"/>
<rect x="325.3" y="70.8" width="0.75" height="0.75" fill="#222"/>
<rect x="309.8" y="78.4" width="0.75" height="0.75" fill="#222"/>
<rect x="329.1" y="70.2" width="0.75" height="0.75" fill="#222"/>
<rect x="335.0" y="74.1" width="0.75" height="0.75" fill="#222"/>
<rect x="333.9" y="67.9" width="0.75" height="0.75" fill="#222"/>
<rect x="333.5" y="71.3" width="0.75" height="0.75" fill="#222"/>
<rect x="309.7" y="75.2" width="0.75" height="0.75" fill="#222"/>
<rect x="306.6" y="74.6" width="0.75" height="0.75" fill="#222"/>
<rect x="305.5" y="77.8" width="0.75" height="0.75" fill="#222"/>
<rect x="320.7" y="70.1" width="0.75" height="0.75" fill="#222"/>
<rect x="332.5" y="70.8" width="0.75" height="0.75" fill="#222"/>
<rect x="309.1" y="79.8" width="0.75" height="0.75" fill="#222"/>
<rect x="312.2" y="80.1" width="0.75" height="0.75" fill="#222"/>
<rect x="313.7" y="82.0" width="0.75" height="0.75" fill="#222"/>
<rect x="313.8" y="71.6" width="0.75" height="0.75" fill="#222"/>
<rect x="323.5" y="82.0" width="0.75" height="0.75" fill="#222"/>
<rect x="326.8" y="78.6" width="0.75" height="0.75" fill="#222"/>
<rect x="315.1" y="80.5" width="0.75" height="0.75" fill="#222"/>
<rect x="307.2" y="75.7" width="0.75" height="0.75" fill="#222"/>
<rect x="323.8" y="81.6" width="0.75" height="0.75" fill="#222"/>
<rect x="327.7" y="68.9" width="0.75" height="0.75" fill="#222"/>
<rect x="334.3" y="72.7" width="0.75" height="0.75" fill="#222"/>
<rect x="332.3" y="68.3" width="0.75" height="0.75" fill="#222"/>
<rect x="326.8" y="82.0" width="0.75" height="0.75" fill="#222"/>
<rect x="318.3" y="81.1" width="0.75" height="0.75" fill="#222"/>
<rect x="307.1" y="80.0" width="0.75" height="0.75" fill="#222"/>
<rect x="326.9" y="70.4" width="0.75" height="0.75" fill="#222"/>
<rect x="307.3" y="76.8" width="0.75" height="0.75" fill="#222"/>
<rect x="313.0" y="82.9" width="0.75" height="0.75" fill="#222"/>
<rect x="318.6" y="71.0" width="0.75" height="0.75" fill="#222"/>
<rect x="309.2" y="80.3" width="0.75" height="0.75" fill="#222"/>
<rect x="312.9" y="73.0" width="0.75" height="0.75" fill="#222"/>
<rect x="307.7" y="76.2" width="0.75" height="0.75" fill="#222"/>
<rect x="317.9" y="82.1" width="0.75" height="0.75" fill="#222"/>
<rect x="335.8" y="69.7" width="0.75" height="0.75" fill="#222"/>
<rect x="304.5" y="76.6" width="0.75" height="0.75" fill="#222"/>
<rect x="308.5" y="76.1" width="0.75" height="0.75" fill="#222"/>
<rect x="324.9" y="79.4" width="0.75" height="0.75" fill="#222"/>
<rect x="328.0" y="69.7" width="0.75" height="0.75" fill="#222"/>
<rect x="333.9" y="69.7" width="0.75" height="0.75" fill="#222"/>
<rect x="307.4" y="77.9" width="0.75" height="0.75" fill="#222"/>
<rect x="307.1" y="77.3" width="0.75" height="0.75" fill="#222"/>
<rect x="331.4" y="76.0" width="0.75" height="0.75" fill="#222"/>
<rect x="311.0" y="73.7" width="0.75" height="0.75" fill="#222"/>
<rect x="309.3" y="82.6" width="0.75" height="0.75" fill="#222"/>
<rect x="332.1" y="75.7" width="0.75" height="0.75" fill="#222"/>
<rect x="334.6" y="69.5" width="0.75" height="0.75" fill="#222"/>
<rect x="333.7" y="72.7" width="0.75" height="0.75" fill="#222"/>
<rect x="329.9" y="69.8" width="0.75" height="0.75" fill="#222"/>
<rect x="334.3" y="77.2" width="0.75" height="0.75" fill="#222"/>
<rect x="333.4" y="72.0" width="0.75" height="0.75" fill="#222"/>
<rect x="327.9" y="67.2" width="0.75" height="0.75" fill="#222"/>
<rect x="310.1" y="78.9" width="0.75" height="0.75" fill="#222"/>
<rect x="327.5" y="78.1" width="0.75" height="0.75" fill="#222"/>
<rect x="316.1" y="83.6" width="0.75" height="0.75" fill="#222"/>
<rect x="322.8" y="71.0" width="0.75" height="0.75" fill="#222"/>
<rect x="315.7" y="80.9" width="0.75" height="0.75" fill="#222"/>
<rect x="333.5" y="71.4" width="0.75" height="0.75" fill="#222"/>
<rect x="329.7" y="70.7" width="0.75" height="0.75" fill="#222"/>
<rect x="312.5" y="74.6" width="0.75" height="0.75" fill="#222"/>
<rect x="305.9" y="80.7" width="0.75" height="0.75" fill="#222"/>
<rect x="308.1" y="78.2" width="0.75" height="0.75" fill="#222"/>
<rect x="335.4" y="70.1" width="0.75" height="0.75" fill="#222"/>
<rect x="311.7" y="82.1" width="0.75" height="0.75" fill="#222"/>
<rect x="332.1" y="75.2" width="0.75" height="0.75" fill="#222"/>
<rect x="324.6" y="78.9" width="0.75" height="0.75" fill="#222"/>
<rect x="326.7" y="78.6" width="0.75" height="0.75" fill="#222"/>
<rect x="330.5" y="68.7" width="0.75" height="0.75" fill="#222"/>
<rect x="308.5" y="74.3" width="0.75" height="0.75" fill="#222"/>
<rect x="308.1" y="78.0" width="0.75" height="0.75" fill="#222"/>
<rect x="329.5" y="69.1" width="0.75" height="0.75" fill="#222"/>
<rect x="311.4" y="74.1" width="0.75" height="0.75" fill="#222"/>
<rect x="307.2" y="78.7" width="0.75" height="0.75" fill="#222"/>
<rect x="330.3" y="70.3" width="0.75" height="0.75" fill="#222"/>
<rect x="313.5" y="82.5" width="0.75" height="0.75" fill="#222"/>
<rect x="334.6" y="70.8" width="0.75" height="0.75" fill="#222"/>
<rect x="308.4" y="76.1" width="0.75" height="0.75" fill="#222"/>
<rect x="332.2" y="70.1" width="0.75" height="0.75" fill="#222"/>
<rect x="316.3" y="80.5" width="0.75" height="0.75" fill="#222"/>
<rect x="307.8" y="76.8" width="0.75" height="0.75" fill="#222"/>
<rect x="307.8" y="76.8" width="0.75" height="0.75" fill="#222"/>
<rect x="327.1" y="79.7" width="0.75" height="0.75" fill="#222"/>
<rect x="312.6" y="81.4" width="0.75" height="0.75" fill="#222"/>
<rect x="315.2" y="70.3" width="0.75" height="0.75" fill="#222"/>
<rect x="308.4" y="73.5" width="0.75" height="0.75" fill="#222"/>
<rect x="308.0" y="75.8" width="0.75" height="0.75" fill="#222"/>
<rect x="333.5" y="68.8" width="0.75" height="0.75" fill="#222"/>
<rect x="326.8" y="80.1" width="0.75" height="0.75" fill="#222"/>
<rect x="331.0" y="68.9" width="0.75" height="0.75" fill="#222"/>
<rect x="327.0" y="79.8" width="0.75" height="0.75" fill="#222"/>
<rect x="333.0" y="69.7" width="0.75" height="0.75" fill="#222"/>
<rect x="307.1" y="80.6" width="0.75" height="0.75" fill="#222"/>
<rect x="330.2" y="70.0" width="0.75" height="0.75" fill="#222"/>
<rect x="309.1" y="80.3" width="0.75" height="0.75" fill="#222"/>
<rect x="310.9" y="79.8" width="0.75" height="0.75" fill="#222"/>
<rect x="332.9" y="74.0" width="0.75" height="0.75" fill="#222"/>
<rect x="307.9" y="76.7" width="0.75" height="0.75" fill="#222"/>
<rect x="317.5" y="67.4" width="0.75" height="0.75" fill="#222"/>
<rect x="309.5" y="81.6" width="0.75" height="0.75" fill="#222"/>
<rect x="307.2" y="77.0" width="0.75" height="0.75" fill="#222"/>
<rect x="325.9" y="79.5" width="0.75" height="0.75" fill="#222"/>
<rect x="328.5" y="70.0" width="0.75" height="0.75" fill="#222"/>
<rect x="307.8" y="78.7" width="0.75" height="0.75" fill="#222"/>
<rect x="306.0" y="76.6" width="0.75" height="0.75" fill="#222"/>
<rect x="312.8" y="80.6" width="0.75" height="0.75" fill="#222"/>
<rect x="332.1" y="70.4" width="0.75" height="0.75" fill="#222"/>
<rect x="316.3" y="72.4" width="0.75" height="0.75" fill="#222"/>
<rect x="316.1" y="70.9" width="0.75" height="0.75" fill="#222"/>
<rect x="327.4" y="69.4" width="0.75" height="0.75" fill="#222"/>
<rect x="307.6" y="75.9" width="0.75" height="0.75" fill="#222"/>
<rect x="306.7" y="78.2" width="0.75" height="0.75" fill="#222"/>
<rect x="308.4" y="74.7" width="0.75" height="0.75" fill="#222"/>
<rect x="316.0" y="80.8" width="0.75" height="0.75" fill="#222"/>
<rect x="310.7" y="73.1" width="0.75" height="0.75" fill="#222"/>
<rect x="332.9" y="71.6" width="0.75" height="0.75" fill="#222"/>
<rect x="307.9" y="76.3" width="0.75" height="0.75" fill="#222"/>
<rect x="331.6" y="75.8" width="0.75" height="0.75" fill="#222"/>
<rect x="311.2" y="73.3" width="0.75" height="0.75" fill="#222"/>
<rect x="311.8" y="73.7" width="0.75" height="0.75" fill="#222"/>
<rect x="332.7" y="69.6" width="0.75" height="0.75" fill="#222"/>
<rect x="308.1" y="80.5" width="0.75" height="0.75" fill="#222"/>
<rect x="331.9" y="70.5" width="0.75" height="0.75" fill="#222"/>
<rect x="328.6" y="69.9" width="0.75" height="0.75" fill="#222"/>
<rect x="325.0" y="79.8" width="0.75" height="0.75" fill="#222"/>
<rect x="330.3" y="78.3" width="0.75" height="0.75" fill="#222"/>
<rect x="315.3" y="72.9" width="0.75" height="0.75" fill="#222"/>
<rect x="336.7" y="70.0" width="0.75" height="0.75" fill="#222"/>
<rect x="332.3" y="79.0" width="0.75" height="0.75" fill="#222"/>
<rect x="309.1" y="80.2" width="0.75" height="0.75" fill="#222"/>
<rect x="307.7" y="78.7" width="0.75" height="0.75" fill="#222"/>
<rect x="306.0" y="81.6" width="0.75" height="0.75" fill="#222"/>
<rect x="325.8" y="81.8" width="0.75" height="0.75" fill="#222"/>
<rect x="327.8" y="70.0" width="0.75" height="0.75" fill="#222"/>
<rect x="327.6" y="78.1" width="0.75" height="0.75" fill="#222"/>
<rect x="309.5" y="79.3" width="0.75" height="0.75" fill="#222"/>
<rect x="327.0" y="69.8" width="0.75" height="0.75" fill="#222"/>
<rect x="307.2" y="80.1" width="0.75" height="0.75" fill="#222"/>
<rect x="320.7" y="71.7" width="0.75" height="0.75" fill="#222"/>
<rect x="316.2" y="80.4" width="0.75" height="0.75" fill="#222"/>
<rect x="306.1" y="80.6" width="0.75" height="0.75" fill="#222"/>
<rect x="311.2" y="72.5" width="0.75" height="0.75" fill="#222"/>
<rect x="313.0" y="73.3" width="0.75" height="0.75" fill="#222"/>
<rect x="307.4" y="78.1" width="0.75" height="0.75" fill="#222"/>
<rect x="309.1" y="79.2" width="0.75" height="0.75" fill="#222"/>
<rect x="332.9" y="76.1" width="0.75" height="0.75" fill="#222"/>
<rect x="307.6" y="79.0" width="0.75" height="0.75" fill="#222"/>
<rect x="308.7" y="77.8" width="0.75" height="0.75" fill="#222"/>
<rect x="335.1" y="68.7" width="0.75" height="0.75" fill="#222"/>
<rect x="311.4" y="73.0" width="0.75" height="0.75" fill="#222"/>
<rect x="334.7" y="69.5" width="0.75" height="0.75" fill="#222"/>
<rect x="329.7" y="77.6" width="0.75" height="0.75" fill="#222"/>
<rect x="336.6" y="70.2" width="0.75" height="0.75" fill="#222"/>
<rect x="332.4" y="70.3" width="0.75" height="0.75" fill="#222"/>
<rect x="313.7" y="81.0" width="0.75" height="0.75" fill="#222"/>
<rect x="333.4" y="66.8" width="0.75" height="0.75" fill="#222"/>
<rect x="332.6" y="68.9" width="0.75" height="0.75" fill="#222"/>
<rect x="328.7" y="70.5" width="0.75" height="0.75" fill="#222"/>
<rect x="307.1" y="80.8" width="0.75" height="0.75" fill="#222"/>
<rect x="331.4" y="75.1" width="0.75" height="0.75" fill="#222"/>
<rect x="333.4" y="76.3" width="0.75" height="0.75" fill="#222"/>
<rect x="308.7" y="76.1" width="0.75" height="0.75" fill="#222"/>
<rect x="327.1" y="79.1" width="0.75" height="0.75" fill="#222"/>
<rect x="324.6" y="82.6" width="0.75" height="0.75" fill="#222"/>
<rect x="313.4" y="72.1" width="0.75" height="0.75" fill="#222"/>
<rect x="326.1" y="79.5" width="0.75" height="0.75" fill="#222"/>
<rect x="313.2" y="80.5" width="0.75" height="0.75" fill="#222"/>
<rect x="330.5" y="70.4" width="0.75" height="0.75" fill="#222"/>
<rect x="312.3" y="74.1" width="0.75" height="0.75" fill="#222"/>
<rect x="312.5" y="83.4" width="0.75" height="0.75" fill="#222"/>
<rect x="318.3" y="71.1" width="0.75" height="0.75" fill="#222"/>
<rect x="313.3" y="80.7" width="0.75" height="0.75" fill="#222"/>
<rect x="313.4" y="73.2" width="0.75" height="0.75" fill="#222"/>
<rect x="336.2" y="71.1" width="0.75" height="0.75" fill="#222"/>
<rect x="323.1" y="71.1" width="0.75" height="0.75" fill="#222"/>
<rect x="330.4" y="77.9" width="0.75" height="0.75" fill="#222"/>
<rect x="309.7" y="79.8" width="0.75" height="0.75" fill="#222"/>
<rect x="309.4" y="75.3" width="0.75" height="0.75" fill="#222"/>
<rect x="317.2" y="72.3" width="0.75" height="0.75" fill="#222"/>
<rect x="308.9" y="79.5" width="0.75" height="0.75" fill="#222"/>
<rect x="308.1" y="78.2" width="0.75" height="0.75" fill="#222"/>
<rect x="325.6" y="80.8" width="0.75" height="0.75" fill="#222"/>
<rect x="334.1" y="72.5" width="0.75" height="0.75" fill="#222"/>
<rect x="314.9" y="81.6" width="0.75" height="0.75" fill="#222"/>
<rect x="333.1" y="69.8" width="0.75" height="0.75" fill="#222"/>
<rect x="318.9" y="81.5" width="0.75" height="0.75" fill="#222"/>
<rect x="337.8" y="71.6" width="0.75" height="0.75" fill="#222"/>
<rect x="333.2" y="69.2" width="0.75" height="0.75" fill="#222"/>
<rect x="313.8" y="82.6" width="0.75" height="0.75" fill="#222"/>
<rect x="311.2" y="73.7" width="0.75" height="0.75" fill="#222"/>
<rect x="326.6" y="80.9" width="0.75" height="0.75" fill="#222"/>
<rect x="327.6" y="81.0" width="0.75" height="0.75" fill="#222"/>
<rect x="317.3" y="84.2" width="0.75" height="0.75" fill="#222"/>
<rect x="308.0" y="74.9" width="0.75" height="0.75" fill="#222"/>
<rect x="318.0" y="81.7" width="0.75" height="0.75" fill="#222"/>
<rect x="306.9" y="77.1" width="0.75" height="0.75" fill="#222"/>
<rect x="319.1" y="71.4" width="0.75" height="0.75" fill="#222"/>
<rect x="332.7" y="70.3" width="0.75" height="0.75" fill="#222"/>
<rect x="305.6" y="79.4" width="0.75" height="0.75" fill="#222"/>
<rect x="329.6" y="70.2" width="0.75" height="0.75" fill="#222"/>
<rect x="329.6" y="69.4" width="0.75" height="0.75" fill="#222"/>
<rect x="307.2" y="75.2" width="0.75" height="0.75" fill="#222"/>
<rect x="329.0" y="67.9" width="0.75" height="0.75" fill="#222"/>
<rect x="333.4" y="71.2" width="0.75" height="0.75" fill="#222"/>
<rect x="328.6" y="68.5" width="0.75" height="0.75" fill="#222"/>
<rect x="307.5" y="79.7" width="0.75" height="0.75" fill="#222"/>
<rect x="317.5" y="69.4" width="0.75" height="0.75" fill="#222"/>
<rect x="306.5" y="79.6" width="0.75" height="0.75" fill="#222"/>
<rect x="323.1" y="82.5" width="0.75" height="0.75" fill="#222"/>
<rect x="306.3" y="75.7" width="0.75" height="0.75" fill="#222"/>
<rect x="311.6" y="73.6" width="0.75" height="0.75" fill="#222"/>
<rect x="333.5" y="76.4" width="0.75" height="0.75" fill="#222"/>
<rect x="312.1" y="80.4" width="0.75" height="0.75" fill="#222"/>
<rect x="331.7" y="70.4" width="0.75" height="0.75" fill="#222"/>
<rect x="331.9" y="69.1" width="0.75" height="0.75" fill="#222"/>
<rect x="309.1" y="75.1" width="0.75" height="0.75" fill="#222"/>
<rect x="334.5" y="69.2" width="0.75" height="0.75" fill="#222"/>
<rect x="315.0" y="80.5" width="0.75" height="0.75" fill="#222"/>
<rect x="324.6" y="70.5" width="0.75" height="0.75" fill="#222"/>
<rect x="320.6" y="81.9" width="0.75" height="0.75" fill="#222"/>
<rect x="313.9" y="73.0" width="0.75" height="0.75" fill="#222"/>
<rect x="332.7" y="75.6" width="0.75" height="0.75" fill="#222"/>
<rect x="308.1" y="78.0" width="0.75" height="0.75" fill="#222"/>
<rect x="333.5" y="76.4" width="0.75" height="0.75" fill="#222"/>
<rect x="308.3" y="76.0" width="0.75" height="0.75" fill="#222"/>
<rect x="314.3" y="81.4" width="0.75" height="0.75" fill="#222"/>
<rect x="324.1" y="77.6" width="0.75" height="0.75" fill="#222"/>
<rect x="310.2" y="80.0" width="0.75" height="0.75" fill="#222"/>
<rect x="317.8" y="80.5" width="0.75" height="0.75" fill="#222"/>
<rect x="335.2" y="71.8" width="0.75" height="0.75" fill="#222"/>
<rect x="313.3" y="80.9" width="0.75" height="0.75" fill="#222"/>
<rect x="332.3" y="70.3" width="0.75" height="0.75" fill="#222"/>
<rect x="310.0" y="80.1" width="0.75" height="0.75" fill="#222"/>
<rect x="318.0" y="67.7" width="0.75" height="0.75" fill="#222"/>
<rect x="316.7" y="83.1" width="0.75" height="0.75" fill="#222"/>
<rect x="330.2" y="69.1" width="0.75" height="0.75" fill="#222"/>
<rect x="307.8" y="77.8" width="0.75" height="0.75" fill="#222"/>
<rect x="322.7" y="80.5" width="0.75" height="0.75" fill="#222"/>
<rect x="313.7" y="72.5" width="0.75" height="0.75" fill="#222"/>
<rect x="308.2" y="74.3" width="0.75" height="0.75" fill="#222"/>
<rect x="333.8" y="69.1" width="0.75" height="0.75" fill="#222"/>
<rect x="330.1" y="76.5" width="0.75" height="0.75" fill="#222"/>
<rect x="320.6" y="71.1" width="0.75" height="0.75" fill="#222"/>
<rect x="310.5" y="74.8" width="0.75" height="0.75" fill="#222"/>
<rect x="327.2" y="78.7" width="0.75" height="0.75" fill="#222"/>
<rect x="322.3" y="79.8" width="0.75" height="0.75" fill="#222"/>
<rect x="332.3" y="75.3" width="0.75" height="0.75" fill="#222"/>
<rect x="311.9" y="73.6" width="0.75" height="0.75" fill="#222"/>
<rect x="332.1" y="75.2" width="0.75" height="0.75" fill="#222"/>
<rect x="308.4" y="78.9" width="0.75" height="0.75" fill="#222"/>
<rect x="317.4" y="67.4" width="0.75" height="0.75" fill="#222"/>
<rect x="315.2" y="73.4" width="0.75" height="0.75" fill="#222"/>
<rect x="317.6" y="81.8" width="0.75" height="0.75" fill="#222"/>
<rect x="335.4" y="71.1" width="0.75" height="0.75" fill="#222"/>
<rect x="308.8" y="76.2" width="0.75" height="0.75" fill="#222"/>
<rect x="321.3" y="69.6" width="0.75" height="0.75" fill="#222"/>
<rect x="332.8" y="70.3" width="0.75" height="0.75" fill="#222"/>
<rect x="324.7" y="82.9" width="0.75" height="0.75" fill="#222"/>
<rect x="328.9" y="78.5" width="0.75" height="0.75" fill="#222"/>
<rect x="318.2" y="70.1" width="0.75" height="0.75" fill="#222"/>
<rect x="306.5" y="77.1" width="0.75" height="0.75" fill="#222"/>
<rect x="307.9" y="77.0" width="0.75" height="0.75" fill="#222"/>
<rect x="322.4" y="70.5" width="0.75" height="0.75" fill="#222"/>
<rect x="308.4" y="77.3" width="0.75" height="0.75" fill="#222"/>
<rect x="321.3" y="80.1" width="0.75" height="0.75" fill="#222"/>
<rect x="333.8" y="72.8" width="0.75" height="0.75" fill="#222"/>
<rect x="325.4" y="79.2" width="0.75" height="0.75" fill="#222"/>
<rect x="309.2" y="75.5" width="0.75" height="0.75" fill="#222"/>
<rect x="317.8" y="68.3" width="0.75" height="0.75" fill="#222"/>
<rect x="328.5" y="69.9" width="0.75" height="0.75" fill="#222"/>
<rect x="333.7" y="71.9" width="0.75" height="0.75" fill="#222"/>
<rect x="317.1" y="72.2" width="0.75" height="0.75" fill="#222"/>
<rect x="308.8" y="78.3" width="0.75" height="0.75" fill="#222"/>
<rect x="335.9" y="57.0" width="0.75" height="0.75" fill="#222"/>
<rect x="338.7" y="57.5" width="0.75" height="0.75" fill="#222"/>
<rect x="336.4" y="60.8" width="0.75" height="0.75" fill="#222"/>
<rect x="336.0" y="56.9" width="0.75" height="0.75" fill="#222"/>
<rect x="344.4" y="51.1" width="0.75" height="0.75" fill="#222"/>
<rect x="347.6" y="55.1" width="0.75" height="0.75" fill="#222"/>
<rect x="343.0" y="51.9" width="0.75" height="0.75" fill="#222"/>
<rect x="346.2" y="47.2" width="0.75" height="0.75" fill="#222"/>
<rect x="323.1" y="66.4" width="0.75" height="0.75" fill="#222"/>
<rect x="339.9" y="55.8" width="0.75" height="0.75" fill="#222"/>
<rect x="331.8" y="60.2" width="0.75" height="0.75" fill="#222"/>
<rect x="326.5" y="66.7" width="0.75" height="0.75" fill="#222"/>
<rect x="322.7" y="68.4" width="0.75" height="0.75" fill="#222"/>
<rect x="330.7" y="64.8" width="0.75" height="0.75" fill="#222"/>
<rect x="349.4" y="48.8" width="0.75" height="0.75" fill="#222"/>
<rect x="345.1" y="52.1" width="0.75" height="0.75" fill="#222"/>
<rect x="350.8" y="49.5" width="0.75" height="0.75" fill="#222"/>
<rect x="330.2" y="60.5" width="0.75" height="0.75" fill="#222"/>
<rect x="334.4" y="61.3" width="0.75" height="0.75" fill="#222"/>
<rect x="327.0" y="67.7" width="0.75" height="0.75" fill="#222"/>
<rect x="347.6" y="49.3" width="0.75" height="0.75" fill="#222"/>
<rect x="334.1" y="57.9" width="0.75" height="0.75" fill="#222"/>
<rect x="326.3" y="64.9" width="0.75" height="0.75" fill="#222"/>
<rect x="329.0" y="67.1" width="0.75" height="0.75" fill="#222"/>
<rect x="337.2" y="61.5" width="0.75" height="0.75" fill="#222"/>
<rect x="348.0" y="50.7" width="0.75" height="0.75" fill="#222"/>
<rect x="322.7" y="68.6" width="0.75" height="0.75" fill="#222"/>
<rect x="338.4" y="57.3" width="0.75" height="0.75" fill="#222"/>
<rect x="335.6" y="61.9" width="0.75" height="0.75" fill="#222"/>
<rect x="338.9" y="55.5" width="0.75" height="0.75" fill="#222"/>
<rect x="328.4" y="66.3" width="0.75" height="0.75" fill="#222"/>
<rect x="330.5" y="64.2" width="0.75" height="0.75" fill="#222"/>
<rect x="336.4" y="62.2" width="0.75" height="0.75" fill="#222"/>
<rect x="322.8" y="70.2" width="0.75" height="0.75" fill="#222"/>
<rect x="328.9" y="62.6" width="0.75" height="0.75" fill="#222"/>
<rect x="333.5" y="61.1" width="0.75" height="0.75" fill="#222"/>
<rect x="334.3" y="60.5" width="0.75" height="0.75" fill="#222"/>
<rect x="326.8" y="62.9" width="0.75" height="0.75" fill="#222"/>
<rect x="321.6" y="67.7" width="0.75" height="0.75" fill="#222"/>
<rect x="332.7" y="58.0" width="0.75" height="0.75" fill="#222"/>
<rect x="327.9" y="60.5" width="0.75" height="0.75" fill="#222"/>
<rect x="335.9" y="59.9" width="0.75" height="0.75" fill="#222"/>
<rect x="328.1" y="61.0" width="0.75" height="0.75" fill="#222"/>
<rect x="322.4" y="68.5" width="0.75" height="0.75" fill="#222"/>
<rect x="328.4" y="62.3" width="0.75" height="0.75" fill="#222"/>
<rect x="339.0" y="58.7" width="0.75" height="0.75" fill="#222"/>
<rect x="338.3" y="57.6" width="0.75" height="0.75" fill="#222"/>
<rect x="332.3" y="62.0" width="0.75" height="0.75" fill="#222"/>
<rect x="322.8" y="69.9" width="0.75" height="0.75" fill="#222"/>
<rect x="333.6" y="60.4" width="0.75" height="0.75" fill="#222"/>
<rect x="346.3" y="48.3" width="0.75" height="0.75" fill="#222"/>
<rect x="345.2" y="51.9" width="0.75" height="0.75" fill="#222"/>
<rect x="326.2" y="66.4" width="0.75" height="0.75" fill="#222"/>
<rect x="337.3" y="57.3" width="0.75" height="0.75" fill="#222"/>
<rect x="350.8" y="48.5" width="0.75" height="0.75" fill="#222"/>
<rect x="328.5" y="60.8" width="0.75" height="0.75" fill="#222"/>
<rect x="324.4" y="67.3" width="0.75" height="0.75" fill="#222"/>
<rect x="325.4" y="71.2" width="0.75" height="0.75" fill="#222"/>
<rect x="323.0" y="65.5" width="0.75" height="0.75" fill="#222"/>
<rect x="328.0" y="62.0" width="0.75" height="0.75" fill="#222"/>
<rect x="326.1" y="71.9" width="0.75" height="0.75" fill="#222"/>
<rect x="340.6" y="56.8" width="0.75" height="0.75" fill="#222"/>
<rect x="343.7" y="57.3" width="0.75" height="0.75" fill="#222"/>
<rect x="341.4" y="57.5" width="0.75" height="0.75" fill="#222"/>
<rect x="341.0" y="51.4" width="0.75" height="0.75" fill="#222"/>
<rect x="328.0" y="67.7" width="0.75" height="0.75" fill="#222"/>
<rect x="326.1" y="66.0" width="0.75" height="0.75" fill="#222"/>
<rect x="326.8" y="63.3" width="0.75" height="0.75" fill="#222"/>
<rect x="346.6" y="52.4" width="0.75" height="0.75" fill="#222"/>
<rect x="333.4" y="61.1" width="0.75" height="0.75" fill="#222"/>
<rect x="345.4" y="52.9" width="0.75" height="0.75" fill="#222"/>
<rect x="331.5" y="58.7" width="0.75" height="0.75" fill="#222"/>
<rect x="343.5" y="58.4" width="0.75" height="0.75" fill="#222"/>
<rect x="339.9" y="55.3" width="0.75" height="0.75" fill="#222"/>
<rect x="337.4" y="59.7" width="0.75" height="0.75" fill="#222"/>
<rect x="344.2" y="48.5" width="0.75" height="0.75" fill="#222"/>
<rect x="332.5" y="57.9" width="0.75" height="0.75" fill="#222"/>
<rect x="323.3" y="68.8" width="0.75" height="0.75" fill="#222"/>
<rect x="342.7" y="55.6" width="0.75" height="0.75" fill="#222"/>
<rect x="330.1" y="61.0" width="0.75" height="0.75" fill="#222"/>
<rect x="349.3" y="50.6" width="0.75" height="0.75" fill="#222"/>
<rect x="345.0" y="50.3" width="0.75" height="0.75" fill="#222"/>
<rect x="329.2" y="61.9" width="0.75" height="0.75" fill="#222"/>
<rect x="325.6" y="64.2" width="0.75" height="0.75" fill="#222"/>
<rect x="323.9" y="64.6" width="0.75" height="0.75" fill="#222"/>
<rect x="349.1" y="45.6" width="0.75" height="0.75" fill="#222"/>
<rect x="322.6" y="68.1" width="0.75" height="0.75" fill="#222"/>
<rect x="350.4" y="50.6" width="0.75" height="0.75" fill="#222"/>
<rect x="341.3" y="56.2" width="0.75" height="0.75" fill="#222"/>
<rect x="328.6" y="69.3" width="0.75" height="0.75" fill="#222"/>
<rect x="340.6" y="54.5" width="0.75" height="0.75" fill="#222"/>
<rect x="347.3" y="51.2" width="0.75" height="0.75" fill="#222"/>
<rect x="326.0" y="63.6" width="0.75" height="0.75" fill="#222"/>
<rect x="339.8" y="55.8" width="0.75" height="0.75" fill="#222"/>
<rect x="330.3" y="64.8" width="0.75" height="0.75" fill="#222"/>
<rect x="333.9" y="60.6" width="0.75" height="0.75" fill="#222"/>
<rect x="334.9" y="57.0" width="0.75" height="0.75" fill="#222"/>
<rect x="338.1" y="54.4" width="0.75" height="0.75" fill="#222"/>
<rect x="333.7" y="58.6" width="0.75" height="0.75" fill="#222"/>
<rect x="333.2" y="57.7" width="0.75" height="0.75" fill="#222"/>
<rect x="324.1" y="63.9" width="0.75" height="0.75" fill="#222"/>
<rect x="347.3" y="50.6" width="0.75" height="0.75" fill="#222"/>
<rect x="344.6" y="49.1" width="0.75" height="0.75" fill="#222"/>
<rect x="336.3" y="56.2" width="0.75" height="0.75" fill="#222"/>
<rect x="343.6" y="53.9" width="0.75" height="0.75" fill="#222"/>
<rect x="326.4" y="60.8" width="0.75" height="0.75" fill="#222"/>
<rect x="334.8" y="60.6" width="0.75" height="0.75" fill="#222"/>
<rect x="321.6" y="66.1" width="0.75" height="0.75" fill="#222"/>
<rect x="336.6" y="54.6" width="0.75" height="0.75" fill="#222"/>
<rect x="323.1" y="66.8" width="0.75" height="0.75" fill="#222"/>
<rect x="338.0" y="55.6" width="0.75" height="0.75" fill="#222"/>
<rect x="332.5" y="60.0" width="0.75" height="0.75" fill="#222"/>
<rect x="350.3" y="51.4" width="0.75" height="0.75" fill="#222"/>
<rect x="343.9" y="52.8" width="0.75" height="0.75" fill="#222"/>
<rect x="322.9" y="63.9" width="0.75" height="0.75" fill="#222"/>
<rect x="349.5" y="47.5" width="0.75" height="0.75" fill="#222"/>
<rect x="335.6" y="59.5" width="0.75" height="0.75" fill="#222"/>
<rect x="332.1" y="61.7" width="0.75" height="0.75" fill="#222"/>
<rect x="326.7" y="62.5" width="0.75" height="0.75" fill="#222"/>
<rect x="323.0" y="66.4" width="0.75" height="0.75" fill="#222"/>
<rect x="332.3" y="59.4" width="0.75" height="0.75" fill="#222"/>
<rect x="337.8" y="54.0" width="0.75" height="0.75" fill="#222"/>
<rect x="329.7" y="62.6" width="0.75" height="0.75" fill="#222"/>
<rect x="330.4" y="60.7" width="0.75" height="0.75" fill="#222"/>
<rect x="344.5" y="51.7" width="0.75" height="0.75" fill="#222"/>
<rect x="333.1" y="60.6" width="0.75" height="0.75" fill="#222"/>
<rect x="323.0" y="66.0" width="0.75" height="0.75" fill="#222"/>
<rect x="325.0" y="69.6" width="0.75" height="0.75" fill="#222"/>
<rect x="337.7" y="55.1" width="0.75" height="0.75" fill="#222"/>
<rect x="351.8" y="47.4" width="0.75" height="0.75" fill="#222"/>
<rect x="324.4" y="66.1" width="0.75" height="0.75" fill="#222"/>
<rect x="333.0" y="60.7" width="0.75" height="0.75" fill="#222"/>
<rect x="345.0" y="55.1" width="0.75" height="0.75" fill="#222"/>
<rect x="335.5" y="56.2" width="0.75" height="0.75" fill="#222"/>
<rect x="338.1" y="58.6" width="0.75" height="0.75" fill="#222"/>
<rect x="347.8" y="47.3" width="0.75" height="0.75" fill="#222"/>
<rect x="351.5" y="48.5" width="0.75" height="0.75" fill="#222"/>
<rect x="322.2" y="65.2" width="0.75" height="0.75" fill="#222"/>
<rect x="343.6" y="52.2" width="0.75" height="0.75" fill="#222"/>
<rect x="337.3" y="55.7" width="0.75" height="0.75" fill="#222"/>
<rect x="325.5" y="64.7" width="0.75" height="0.75" fill="#222"/>
<rect x="323.9" y="69.2" width="0.75" height="0.75" fill="#222"/>
<rect x="327.9" y="66.6" width="0.75" height="0.75" fill="#222"/>
<rect x="329.2" y="63.1" width="0.75" height="0.75" fill="#222"/>
<rect x="343.9" y="51.1" width="0.75" height="0.75" fill="#222"/>
<rect x="323.4" y="69.4" width="0.75" height="0.75" fill="#222"/>
<rect x="336.9" y="54.9" width="0.75" height="0.75" fill="#222"/>
<rect x="325.6" y="62.3" width="0.75" height="0.75" fill="#222"/>
<rect x="334.4" y="59.2" width="0.75" height="0.75" fill="#222"/>
<rect x="336.4" y="57.7" width="0.75" height="0.75" fill="#222"/>
<rect x="318.6" y="69.9" width="0.75" height="0.75" fill="#222"/>
<rect x="324.1" y="65.1" width="0.75" height="0.75" fill="#222"/>
<rect x="325.1" y="79.2" width="0.75" height="0.75" fill="#222"/>
<rect x="319.4" y="64.0" width="0.75" height="0.75" fill="#222"/>
<rect x="337.6" y="54.0" width="0.75" height="0.75" fill="#222"/>
<rect x="338.5" y="51.8" width="0.75" height="0.75" fill="#222"/>
<rect x="324.2" y="70.1" width="0.75" height="0.75" fill="#222"/>
<rect x="321.9" y="62.6" width="0.75" height="0.75" fill="#222"/>
<rect x="315.9" y="64.4" width="0.75" height="0.75" fill="#222"/>
<rect x="329.0" y="60.9" width="0.75" height="0.75" fill="#222"/>
<rect x="337.9" y="52.8" width="0.75" height="0.75" fill="#222"/>
<rect x="319.1" y="70.1" width="0.75" height="0.75" fill="#222"/>
<rect x="321.0" y="56.6" width="0.75" height="0.75" fill="#222"/>
<rect x="336.5" y="61.1" width="0.75" height="0.75" fill="#222"/>
<rect x="326.2" y="65.1" width="0.75" height="0.75" fill="#222"/>
<rect x="318.2" y="67.0" width="0.75" height="0.75" fill="#222"/>
<rect x="332.7" y="56.0" width="0.75" height="0.75" fill="#222"/>
<rect x="336.4" y="59.0" width="0.75" height="0.75" fill="#222"/>
<rect x="319.5" y="66.7" width="0.75" height="0.75" fill="#222"/>
<rect x="319.2" y="70.3" width="0.75" height="0.75" fill="#222"/>
<rect x="332.0" y="69.4" width="0.75" height="0.75" fill="#222"/>
<rect x="321.7" y="67.0" width="0.75" height="0.75" fill="#222"/>
<rect x="346.5" y="55.9" width="0.75" height="0.75" fill="#222"/>
<rect x="342.8" y="55.8" width="0.75" height="0.75" fill="#222"/>
<rect x="330.4" y="57.7" width="0.75" height="0.75" fill="#222"/>
<rect x="335.4" y="64.4" width="0.75" height="0.75" fill="#222"/>
<rect x="327.3" y="66.9" width="0.75" height="0.75" fill="#222"/>
<rect x="316.2" y="65.3" width="0.75" height="0.75" fill="#222"/>
<rect x="338.0" y="57.5" width="0.75" height="0.75" fill="#222"/>
<rect x="325.2" y="74.2" width="0.75" height="0.75" fill="#222"/>
<rect x="320.4" y="72.6" width="0.75" height="0.75" fill="#222"/>
<rect x="335.6" y="61.6" width="0.75" height="0.75" fill="#222"/>
<rect x="325.8" y="61.7" width="0.75" height="0.75" fill="#222"/>
<rect x="317.6" y="69.4" width="0.75" height="0.75" fill="#222"/>
<rect x="331.0" y="62.9" width="0.75" height="0.75" fill="#222"/>
<rect x="324.8" y="60.9" width="0.75" height="0.75" fill="#222"/>
<rect x="314.0" y="62.9" width="0.75" height="0.75" fill="#222"/>
<rect x="338.5" y="64.2" width="0.75" height="0.75" fill="#222"/>
<rect x="334.7" y="54.5" width="0.75" height="0.75" fill="#222"/>
<rect x="330.7" y="52.0" width="0.75" height="0.75" fill="#222"/>
<rect x="337.9" y="42.1" width="0.75" height="0.75" fill="#222"/>
<rect x="348.4" y="57.6" width="0.75" height="0.75" fill="#222"/>
<rect x="321.0" y="66.2" width="0.75" height="0.75" fill="#222"/>
<rect x="327.9" y="58.0" width="0.75" height="0.75" fill="#222"/>
<rect x="332.9" y="53.4" width="0.75" height="0.75" fill="#222"/>
<rect x="341.2" y="59.3" width="0.75" height="0.75" fill="#222"/>
<rect x="339.4" y="53.2" width="0.75" height="0.75" fill="#222"/>
<rect x="314.4" y="64.6" width="0.75" height="0.75" fill="#222"/>
<rect x="320.7" y="69.5" width="0.75" height="0.75" fill="#222"/>
<rect x="319.0" y="68.5" width="0.75" height="0.75" fill="#222"/>
<rect x="319.5" y="64.8" width="0.75" height="0.75" fill="#222"/>
<rect x="332.1" y="56.2" width="0.75" height="0.75" fill="#222"/>
<rect x="320.1" y="64.2" width="0.75" height="0.75" fill="#222"/>
<rect x="318.1" y="69.1" width="0.75" height="0.75" fill="#222"/>
<rect x="323.4" y="62.9" width="0.75" height="0.75" fill="#222"/>
<rect x="322.9" y="59.9" width="0.75" height="0.75" fill="#222"/>
<rect x="333.8" y="64.0" width="0.75" height="0.75" fill="#222"/>
<rect x="338.6" y="62.7" width="0.75" height="0.75" fill="#222"/>
<rect x="323.7" y="64.5" width="0.75" height="0.75" fill="#222"/>
<rect x="330.3" y="61.1" width="0.75" height="0.75" fill="#222"/>
<rect x="338.9" y="76.7" width="0.75" height="0.75" fill="#222"/>
<rect x="334.8" y="72.2" width="0.75" height="0.75" fill="#222"/>
<rect x="345.0" y="75.8" width="0.75" height="0.75" fill="#222"/>
<rect x="349.6" y="78.4" width="0.75" height="0.75" fill="#222"/>
<rect x="349.9" y="74.8" width="0.75" height="0.75" fill="#222"/>
<rect x="344.7" y="70.0" width="0.75" height="0.75" fill="#222"/>
<rect x="342.7" y="71.7" width="0.75" height="0.75" fill="#222"/>
<rect x="332.7" y="71.9" width="0.75" height="0.75" fill="#222"/>
<rect x="335.3" y="73.8" width="0.75" height="0.75" fill="#222"/>
<rect x="338.3" y="70.1" width="0.75" height="0.75" fill="#222"/>
<rect x="343.7" y="71.1" width="0.75" height="0.75" fill="#222"/>
<rect x="334.0" y="74.8" width="0.75" height="0.75" fill="#222"/>
<rect x="348.2" y="80.4" width="0.75" height="0.75" fill="#222"/>
<rect x="350.4" y="77.0" width="0.75" height="0.75" fill="#222"/>
<rect x="338.2" y="73.8" width="0.75" height="0.75" fill="#222"/>
<rect x="338.9" y="77.1" width="0.75" height="0.75" fill="#222"/>
<rect x="338.5" y="77.0" width="0.75" height="0.75" fill="#222"/>
<rect x="335.7" y="76.5" width="0.75" height="0.75" fill="#222"/>
<rect x="339.3" y="71.3" width="0.75" height="0.75" fill="#222"/>
<rect x="338.8" y="79.0" width="0.75" height="0.75" fill="#222"/>
<rect x="346.9" y="71.6" width="0.75" height="0.75" fill="#222"/>
<rect x="338.3" y="73.4" width="0.75" height="0.75" fill="#222"/>
<rect x="337.7" y="68.5" width="0.75" height="0.75" fill="#222"/>
<rect x="345.0" y="75.7" width="0.75" height="0.75" fill="#222"/>
<rect x="338.1" y="73.7" width="0.75" height="0.75" fill="#222"/>
<rect x="340.8" y="76.1" width="0.75" height="0.75" fill="#222"/>
<rect x="351.5" y="74.9" width="0.75" height="0.75" fill="#222"/>
<rect x="341.6" y="71.5" width="0.75" height="0.75" fill="#222"/>
<rect x="338.9" y="74.1" width="0.75" height="0.75" fill="#222"/>
<rect x="336.2" y="70.5" width="0.75" height="0.75" fill="#222"/>
<rect x="349.9" y="80.5" width="0.75" height="0.75" fill="#222"/>
<rect x="336.5" y="69.9" width="0.75" height="0.75" fill="#222"/>
<rect x="338.2" y="75.8" width="0.75" height="0.75" fill="#222"/>
<rect x="341.8" y="71.8" width="0.75" height="0.75" fill="#222"/>
<rect x="333.3" y="71.8" width="0.75" height="0.75" fill="#222"/>
<rect x="344.6" y="73.4" width="0.75" height="0.75" fill="#222"/>
<rect x="333.3" y="75.6" width="0.75" height="0.75" fill="#222"/>
<rect x="346.9" y="75.1" width="0.75" height="0.75" fill="#222"/>
<rect x="339.9" y="74.7" width="0.75" height="0.75" fill="#222"/>
<rect x="337.0" y="70.7" width="0.75" height="0.75" fill="#222"/>
<rect x="331.0" y="86.3" width="0.75" height="0.75" fill="#222"/>
<rect x="326.3" y="81.5" width="0.75" height="0.75" fill="#222"/>
<rect x="333.4" y="83.8" width="0.75" height="0.75" fill="#222"/>
<rect x="323.7" y="85.0" width="0.75" height="0.75" fill="#222"/>
<rect x="323.1" y="83.4" width="0.75" height="0.75" fill="#222"/>
<rect x="322.3" y="80.8" width="0.75" height="0.75" fill="#222"/>
<rect x="329.6" y="85.6" width="0.75" height="0.75" fill="#222"/>
<rect x="327.0" y="79.4" width="0.75" height="0.75" fill="#222"/>
<rect x="328.5" y="82.7" width="0.75" height="0.75" fill="#222"/>
<rect x="323.2" y="81.5" width="0.75" height="0.75" fill="#222"/>
<rect x="322.0" y="79.5" width="0.75" height="0.75" fill="#222"/>
<rect x="320.3" y="78.1" width="0.75" height="0.75" fill="#222"/>
<rect x="320.7" y="79.7" width="0.75" height="0.75" fill="#222"/>
<rect x="325.5" y="78.8" width="0.75" height="0.75" fill="#222"/>
<rect x="329.7" y="83.3" width="0.75" height="0.75" fill="#222"/>
<rect x="328.9" y="86.3" width="0.75" height="0.75" fill="#222"/>
<rect x="326.4" y="83.7" width="0.75" height="0.75" fill="#222"/>
<rect x="319.4" y="80.2" width="0.75" height="0.75" fill="#222"/>
<rect x="323.2" y="79.5" width="0.75" height="0.75" fill="#222"/>
<rect x="330.6" y="89.5" width="0.75" height="0.75" fill="#222"/>
<rect x="320.6" y="80.2" width="0.75" height="0.75" fill="#222"/>
<rect x="327.8" y="80.1" width="0.75" height="0.75" fill="#222"/>
<rect x="321.9" y="86.4" width="0.75" height="0.75" fill="#222"/>
<rect x="321.0" y="85.8" width="0.75" height="0.75" fill="#222"/>
<rect x="331.0" y="84.4" width="0.75" height="0.75" fill="#222"/>
<rect x="332.6" y="86.5" width="0.75" height="0.75" fill="#222"/>
<rect x="321.7" y="81.7" width="0.75" height="0.75" fill="#222"/>
<rect x="326.2" y="82.7" width="0.75" height="0.75" fill="#222"/>
<rect x="326.5" y="84.6" width="0.75" height="0.75" fill="#222"/>
<rect x="328.4" y="81.4" width="0.75" height="0.75" fill="#222"/>
<text x="305.1" y="45.3" font-size="5.2" text-anchor="start" font-weight="normal" fill="#1a1a1a" stroke="#1a1a1a" stroke-width="0.15" >Q5</text>
<text x="305.1" y="50.5" font-size="5.2" text-anchor="start" font-weight="normal" fill="#1a1a1a" stroke="#1a1a1a" stroke-width="0.15" >1.28</text>
<text x="367.8" y="45.3" font-size="5.2" text-anchor="end" font-weight="normal" fill="#1a1a1a" stroke="#1a1a1a" stroke-width="0.15" >Q6</text>
<text x="367.8" y="50.5" font-size="5.2" text-anchor="end" font-weight="normal" fill="#1a1a1a" stroke="#1a1a1a" stroke-width="0.15" >0.67</text>
<text x="305.1" y="84.2" font-size="5.2" text-anchor="start" font-weight="normal" fill="#1a1a1a" stroke="#1a1a1a" stroke-width="0.15" >Q8</text>
<text x="305.1" y="89.7" font-size="5.2" text-anchor="start" font-weight="normal" fill="#1a1a1a" stroke="#1a1a1a" stroke-width="0.15" >97.9</text>
<text x="367.8" y="84.2" font-size="5.2" text-anchor="end" font-weight="normal" fill="#1a1a1a" stroke="#1a1a1a" stroke-width="0.15" >Q7</text>
<text x="367.8" y="89.7" font-size="5.2" text-anchor="end" font-weight="normal" fill="#1a1a1a" stroke="#1a1a1a" stroke-width="0.15" >0.17</text>
<rect x="379.4" y="40.3" width="61.60000000000002" height="51.400000000000006" fill="none" stroke="#111" stroke-width="1.1"/>
<line x1="410.2" y1="40.3" x2="410.2" y2="91.7" stroke="#444" stroke-width="0.6"/>
<line x1="379.4" y1="69.7" x2="441.0" y2="69.7" stroke="#444" stroke-width="0.6"/>
<polygon points="382.5,78.2 386,76.2 392,74.2 398,72.6 404,71.1 406.5,70.5 407.9,72.1 405,75.2 400,77.2 394,79.2 388,80.3 384,80.3 382.5,79.5" fill="#161616" stroke="#161616" stroke-width="0.8" stroke-linejoin="round"/>
<rect x="407.0" y="70.4" width="0.75" height="0.75" fill="#222"/>
<rect x="381.8" y="78.1" width="0.75" height="0.75" fill="#222"/>
<rect x="407.9" y="73.1" width="0.75" height="0.75" fill="#222"/>
<rect x="383.1" y="80.6" width="0.75" height="0.75" fill="#222"/>
<rect x="382.0" y="77.8" width="0.75" height="0.75" fill="#222"/>
<rect x="406.7" y="70.0" width="0.75" height="0.75" fill="#222"/>
<rect x="384.6" y="76.3" width="0.75" height="0.75" fill="#222"/>
<rect x="403.7" y="70.0" width="0.75" height="0.75" fill="#222"/>
<rect x="406.5" y="70.5" width="0.75" height="0.75" fill="#222"/>
<rect x="395.4" y="73.1" width="0.75" height="0.75" fill="#222"/>
<rect x="402.8" y="70.7" width="0.75" height="0.75" fill="#222"/>
<rect x="407.3" y="69.7" width="0.75" height="0.75" fill="#222"/>
<rect x="402.9" y="69.9" width="0.75" height="0.75" fill="#222"/>
<rect x="394.1" y="79.7" width="0.75" height="0.75" fill="#222"/>
<rect x="396.9" y="72.0" width="0.75" height="0.75" fill="#222"/>
<rect x="407.8" y="71.5" width="0.75" height="0.75" fill="#222"/>
<rect x="383.4" y="76.5" width="0.75" height="0.75" fill="#222"/>
<rect x="407.9" y="69.9" width="0.75" height="0.75" fill="#222"/>
<rect x="396.6" y="77.9" width="0.75" height="0.75" fill="#222"/>
<rect x="405.9" y="70.1" width="0.75" height="0.75" fill="#222"/>
<rect x="395.4" y="72.6" width="0.75" height="0.75" fill="#222"/>
<rect x="401.7" y="76.7" width="0.75" height="0.75" fill="#222"/>
<rect x="383.7" y="77.1" width="0.75" height="0.75" fill="#222"/>
<rect x="389.7" y="73.8" width="0.75" height="0.75" fill="#222"/>
<rect x="396.8" y="78.9" width="0.75" height="0.75" fill="#222"/>
<rect x="406.9" y="70.6" width="0.75" height="0.75" fill="#222"/>
<rect x="399.1" y="70.8" width="0.75" height="0.75" fill="#222"/>
<rect x="404.4" y="76.1" width="0.75" height="0.75" fill="#222"/>
<rect x="401.0" y="77.5" width="0.75" height="0.75" fill="#222"/>
<rect x="407.2" y="69.6" width="0.75" height="0.75" fill="#222"/>
<rect x="406.3" y="69.3" width="0.75" height="0.75" fill="#222"/>
<rect x="406.5" y="69.7" width="0.75" height="0.75" fill="#222"/>
<rect x="396.3" y="72.7" width="0.75" height="0.75" fill="#222"/>
<rect x="405.8" y="69.4" width="0.75" height="0.75" fill="#222"/>
<rect x="387.1" y="80.7" width="0.75" height="0.75" fill="#222"/>
<rect x="380.6" y="78.8" width="0.75" height="0.75" fill="#222"/>
<rect x="404.3" y="70.5" width="0.75" height="0.75" fill="#222"/>
<rect x="408.8" y="69.9" width="0.75" height="0.75" fill="#222"/>
<rect x="403.6" y="75.7" width="0.75" height="0.75" fill="#222"/>
<rect x="408.2" y="71.7" width="0.75" height="0.75" fill="#222"/>
<rect x="407.1" y="69.3" width="0.75" height="0.75" fill="#222"/>
<rect x="407.4" y="74.2" width="0.75" height="0.75" fill="#222"/>
<rect x="391.6" y="80.8" width="0.75" height="0.75" fill="#222"/>
<rect x="394.4" y="72.7" width="0.75" height="0.75" fill="#222"/>
<rect x="389.8" y="73.9" width="0.75" height="0.75" fill="#222"/>
<rect x="401.6" y="77.4" width="0.75" height="0.75" fill="#222"/>
<rect x="380.5" y="79.6" width="0.75" height="0.75" fill="#222"/>
<rect x="390.5" y="73.6" width="0.75" height="0.75" fill="#222"/>
<rect x="398.5" y="77.2" width="0.75" height="0.75" fill="#222"/>
<rect x="382.4" y="79.4" width="0.75" height="0.75" fill="#222"/>
<rect x="390.0" y="80.6" width="0.75" height="0.75" fill="#222"/>
<rect x="381.9" y="77.6" width="0.75" height="0.75" fill="#222"/>
<rect x="385.5" y="79.9" width="0.75" height="0.75" fill="#222"/>
<rect x="407.6" y="70.6" width="0.75" height="0.75" fill="#222"/>
<rect x="384.0" y="76.9" width="0.75" height="0.75" fill="#222"/>
<rect x="389.0" y="80.4" width="0.75" height="0.75" fill="#222"/>
<rect x="407.7" y="72.4" width="0.75" height="0.75" fill="#222"/>
<rect x="381.8" y="79.2" width="0.75" height="0.75" fill="#222"/>
<rect x="405.3" y="69.8" width="0.75" height="0.75" fill="#222"/>
<rect x="381.1" y="82.0" width="0.75" height="0.75" fill="#222"/>
<rect x="407.4" y="74.3" width="0.75" height="0.75" fill="#222"/>
<rect x="381.8" y="79.4" width="0.75" height="0.75" fill="#222"/>
<rect x="381.6" y="79.5" width="0.75" height="0.75" fill="#222"/>
<rect x="388.5" y="79.8" width="0.75" height="0.75" fill="#222"/>
<rect x="406.4" y="73.8" width="0.75" height="0.75" fill="#222"/>
<rect x="383.1" y="80.2" width="0.75" height="0.75" fill="#222"/>
<rect x="408.1" y="71.1" width="0.75" height="0.75" fill="#222"/>
<rect x="408.2" y="70.0" width="0.75" height="0.75" fill="#222"/>
<rect x="382.6" y="79.7" width="0.75" height="0.75" fill="#222"/>
<rect x="407.3" y="68.4" width="0.75" height="0.75" fill="#222"/>
<rect x="403.6" y="70.7" width="0.75" height="0.75" fill="#222"/>
<rect x="404.2" y="69.8" width="0.75" height="0.75" fill="#222"/>
<rect x="392.0" y="79.3" width="0.75" height="0.75" fill="#222"/>
<rect x="399.1" y="72.3" width="0.75" height="0.75" fill="#222"/>
<rect x="405.1" y="70.7" width="0.75" height="0.75" fill="#222"/>
<rect x="408.2" y="72.3" width="0.75" height="0.75" fill="#222"/>
<rect x="404.4" y="74.9" width="0.75" height="0.75" fill="#222"/>
<rect x="382.1" y="79.1" width="0.75" height="0.75" fill="#222"/>
<rect x="405.9" y="68.6" width="0.75" height="0.75" fill="#222"/>
<rect x="393.2" y="73.2" width="0.75" height="0.75" fill="#222"/>
<rect x="407.1" y="68.5" width="0.75" height="0.75" fill="#222"/>
<rect x="380.2" y="80.6" width="0.75" height="0.75" fill="#222"/>
<rect x="404.3" y="70.4" width="0.75" height="0.75" fill="#222"/>
<rect x="393.0" y="79.4" width="0.75" height="0.75" fill="#222"/>
<rect x="384.7" y="76.2" width="0.75" height="0.75" fill="#222"/>
<rect x="382.2" y="77.7" width="0.75" height="0.75" fill="#222"/>
<rect x="398.8" y="78.2" width="0.75" height="0.75" fill="#222"/>
<rect x="405.9" y="72.3" width="0.75" height="0.75" fill="#222"/>
<rect x="401.2" y="71.1" width="0.75" height="0.75" fill="#222"/>
<rect x="408.4" y="71.1" width="0.75" height="0.75" fill="#222"/>
<rect x="399.2" y="78.2" width="0.75" height="0.75" fill="#222"/>
<rect x="407.6" y="69.2" width="0.75" height="0.75" fill="#222"/>
<rect x="404.5" y="69.9" width="0.75" height="0.75" fill="#222"/>
<rect x="398.9" y="77.5" width="0.75" height="0.75" fill="#222"/>
<rect x="394.6" y="72.2" width="0.75" height="0.75" fill="#222"/>
<rect x="399.7" y="77.7" width="0.75" height="0.75" fill="#222"/>
<rect x="405.3" y="73.9" width="0.75" height="0.75" fill="#222"/>
<rect x="389.7" y="80.5" width="0.75" height="0.75" fill="#222"/>
<rect x="380.5" y="80.0" width="0.75" height="0.75" fill="#222"/>
<rect x="407.7" y="69.4" width="0.75" height="0.75" fill="#222"/>
<rect x="403.2" y="75.6" width="0.75" height="0.75" fill="#222"/>
<rect x="381.7" y="78.0" width="0.75" height="0.75" fill="#222"/>
<rect x="397.0" y="79.1" width="0.75" height="0.75" fill="#222"/>
<rect x="381.1" y="78.4" width="0.75" height="0.75" fill="#222"/>
<rect x="401.0" y="78.5" width="0.75" height="0.75" fill="#222"/>
<rect x="380.2" y="79.0" width="0.75" height="0.75" fill="#222"/>
<rect x="404.7" y="70.7" width="0.75" height="0.75" fill="#222"/>
<rect x="405.8" y="69.7" width="0.75" height="0.75" fill="#222"/>
<rect x="404.2" y="75.1" width="0.75" height="0.75" fill="#222"/>
<rect x="406.7" y="74.0" width="0.75" height="0.75" fill="#222"/>
<rect x="405.3" y="70.1" width="0.75" height="0.75" fill="#222"/>
<rect x="406.8" y="73.1" width="0.75" height="0.75" fill="#222"/>
<rect x="405.7" y="73.4" width="0.75" height="0.75" fill="#222"/>
<rect x="403.5" y="70.7" width="0.75" height="0.75" fill="#222"/>
<rect x="381.5" y="77.6" width="0.75" height="0.75" fill="#222"/>
<rect x="388.2" y="73.7" width="0.75" height="0.75" fill="#222"/>
<rect x="409.0" y="70.4" width="0.75" height="0.75" fill="#222"/>
<rect x="411.4" y="70.7" width="0.75" height="0.75" fill="#222"/>
<rect x="390.3" y="79.9" width="0.75" height="0.75" fill="#222"/>
<rect x="400.1" y="70.4" width="0.75" height="0.75" fill="#222"/>
<rect x="397.9" y="77.8" width="0.75" height="0.75" fill="#222"/>
<rect x="380.7" y="79.7" width="0.75" height="0.75" fill="#222"/>
<rect x="385.6" y="81.1" width="0.75" height="0.75" fill="#222"/>
<rect x="394.9" y="71.0" width="0.75" height="0.75" fill="#222"/>
<rect x="382.0" y="78.7" width="0.75" height="0.75" fill="#222"/>
<rect x="409.2" y="71.0" width="0.75" height="0.75" fill="#222"/>
<rect x="382.6" y="77.4" width="0.75" height="0.75" fill="#222"/>
<rect x="385.0" y="75.1" width="0.75" height="0.75" fill="#222"/>
<rect x="405.9" y="74.7" width="0.75" height="0.75" fill="#222"/>
<rect x="392.6" y="81.3" width="0.75" height="0.75" fill="#222"/>
<rect x="381.1" y="78.0" width="0.75" height="0.75" fill="#222"/>
<rect x="410.6" y="68.2" width="0.75" height="0.75" fill="#222"/>
<rect x="383.6" y="76.3" width="0.75" height="0.75" fill="#222"/>
<rect x="411.1" y="71.6" width="0.75" height="0.75" fill="#222"/>
<rect x="382.3" y="77.2" width="0.75" height="0.75" fill="#222"/>
<rect x="406.8" y="70.1" width="0.75" height="0.75" fill="#222"/>
<rect x="409.2" y="71.5" width="0.75" height="0.75" fill="#222"/>
<rect x="398.9" y="71.4" width="0.75" height="0.75" fill="#222"/>
<rect x="386.0" y="81.2" width="0.75" height="0.75" fill="#222"/>
<rect x="383.6" y="80.4" width="0.75" height="0.75" fill="#222"/>
<rect x="407.3" y="72.6" width="0.75" height="0.75" fill="#222"/>
<rect x="385.3" y="75.0" width="0.75" height="0.75" fill="#222"/>
<rect x="393.4" y="72.3" width="0.75" height="0.75" fill="#222"/>
<rect x="384.7" y="75.2" width="0.75" height="0.75" fill="#222"/>
<rect x="394.2" y="74.0" width="0.75" height="0.75" fill="#222"/>
<rect x="406.6" y="68.8" width="0.75" height="0.75" fill="#222"/>
<rect x="406.6" y="70.3" width="0.75" height="0.75" fill="#222"/>
<rect x="412.3" y="69.6" width="0.75" height="0.75" fill="#222"/>
<rect x="397.1" y="78.6" width="0.75" height="0.75" fill="#222"/>
<rect x="386.5" y="74.2" width="0.75" height="0.75" fill="#222"/>
<rect x="407.1" y="69.6" width="0.75" height="0.75" fill="#222"/>
<rect x="384.7" y="76.4" width="0.75" height="0.75" fill="#222"/>
<rect x="381.3" y="77.5" width="0.75" height="0.75" fill="#222"/>
<rect x="403.3" y="69.8" width="0.75" height="0.75" fill="#222"/>
<rect x="381.8" y="78.4" width="0.75" height="0.75" fill="#222"/>
<rect x="405.3" y="74.4" width="0.75" height="0.75" fill="#222"/>
<rect x="396.6" y="69.6" width="0.75" height="0.75" fill="#222"/>
<rect x="387.5" y="75.2" width="0.75" height="0.75" fill="#222"/>
<rect x="390.2" y="71.6" width="0.75" height="0.75" fill="#222"/>
<rect x="399.1" y="80.2" width="0.75" height="0.75" fill="#222"/>
<rect x="397.3" y="78.1" width="0.75" height="0.75" fill="#222"/>
<rect x="397.8" y="80.2" width="0.75" height="0.75" fill="#222"/>
<rect x="403.0" y="70.6" width="0.75" height="0.75" fill="#222"/>
<rect x="392.8" y="82.5" width="0.75" height="0.75" fill="#222"/>
<rect x="399.7" y="78.8" width="0.75" height="0.75" fill="#222"/>
<rect x="381.8" y="80.5" width="0.75" height="0.75" fill="#222"/>
<rect x="409.9" y="69.5" width="0.75" height="0.75" fill="#222"/>
<rect x="381.9" y="79.6" width="0.75" height="0.75" fill="#222"/>
<rect x="405.6" y="75.2" width="0.75" height="0.75" fill="#222"/>
<rect x="409.0" y="72.1" width="0.75" height="0.75" fill="#222"/>
<rect x="405.5" y="75.0" width="0.75" height="0.75" fill="#222"/>
<rect x="390.3" y="74.5" width="0.75" height="0.75" fill="#222"/>
<rect x="392.8" y="79.9" width="0.75" height="0.75" fill="#222"/>
<rect x="394.7" y="79.0" width="0.75" height="0.75" fill="#222"/>
<rect x="404.1" y="75.6" width="0.75" height="0.75" fill="#222"/>
<rect x="390.1" y="81.1" width="0.75" height="0.75" fill="#222"/>
<rect x="406.5" y="75.0" width="0.75" height="0.75" fill="#222"/>
<rect x="393.0" y="72.6" width="0.75" height="0.75" fill="#222"/>
<rect x="382.2" y="77.1" width="0.75" height="0.75" fill="#222"/>
<rect x="392.8" y="72.4" width="0.75" height="0.75" fill="#222"/>
<rect x="408.8" y="70.6" width="0.75" height="0.75" fill="#222"/>
<rect x="400.7" y="71.4" width="0.75" height="0.75" fill="#222"/>
<rect x="406.4" y="70.3" width="0.75" height="0.75" fill="#222"/>
<rect x="386.7" y="80.9" width="0.75" height="0.75" fill="#222"/>
<rect x="383.8" y="82.2" width="0.75" height="0.75" fill="#222"/>
<rect x="406.0" y="69.6" width="0.75" height="0.75" fill="#222"/>
<rect x="406.9" y="70.3" width="0.75" height="0.75" fill="#222"/>
<rect x="380.5" y="79.6" width="0.75" height="0.75" fill="#222"/>
<rect x="404.4" y="71.0" width="0.75" height="0.75" fill="#222"/>
<rect x="408.9" y="75.2" width="0.75" height="0.75" fill="#222"/>
<rect x="383.6" y="80.5" width="0.75" height="0.75" fill="#222"/>
<rect x="407.2" y="70.2" width="0.75" height="0.75" fill="#222"/>
<rect x="410.3" y="70.0" width="0.75" height="0.75" fill="#222"/>
<rect x="402.1" y="70.4" width="0.75" height="0.75" fill="#222"/>
<rect x="384.2" y="76.8" width="0.75" height="0.75" fill="#222"/>
<rect x="407.5" y="69.4" width="0.75" height="0.75" fill="#222"/>
<rect x="390.4" y="79.0" width="0.75" height="0.75" fill="#222"/>
<rect x="399.9" y="70.9" width="0.75" height="0.75" fill="#222"/>
<rect x="406.7" y="72.7" width="0.75" height="0.75" fill="#222"/>
<rect x="389.9" y="73.1" width="0.75" height="0.75" fill="#222"/>
<rect x="381.3" y="79.2" width="0.75" height="0.75" fill="#222"/>
<rect x="406.7" y="69.9" width="0.75" height="0.75" fill="#222"/>
<rect x="382.9" y="79.6" width="0.75" height="0.75" fill="#222"/>
<rect x="407.2" y="71.1" width="0.75" height="0.75" fill="#222"/>
<rect x="382.9" y="77.9" width="0.75" height="0.75" fill="#222"/>
<rect x="406.3" y="72.3" width="0.75" height="0.75" fill="#222"/>
<rect x="385.2" y="80.1" width="0.75" height="0.75" fill="#222"/>
<rect x="391.7" y="73.7" width="0.75" height="0.75" fill="#222"/>
<rect x="385.2" y="80.3" width="0.75" height="0.75" fill="#222"/>
<rect x="405.4" y="76.5" width="0.75" height="0.75" fill="#222"/>
<rect x="405.2" y="75.4" width="0.75" height="0.75" fill="#222"/>
<rect x="388.7" y="74.6" width="0.75" height="0.75" fill="#222"/>
<rect x="382.4" y="79.4" width="0.75" height="0.75" fill="#222"/>
<rect x="402.2" y="70.5" width="0.75" height="0.75" fill="#222"/>
<rect x="405.0" y="75.0" width="0.75" height="0.75" fill="#222"/>
<rect x="383.6" y="77.3" width="0.75" height="0.75" fill="#222"/>
<rect x="400.9" y="76.6" width="0.75" height="0.75" fill="#222"/>
<rect x="390.5" y="81.2" width="0.75" height="0.75" fill="#222"/>
<rect x="382.3" y="79.7" width="0.75" height="0.75" fill="#222"/>
<rect x="401.1" y="72.2" width="0.75" height="0.75" fill="#222"/>
<rect x="400.5" y="69.7" width="0.75" height="0.75" fill="#222"/>
<rect x="403.5" y="75.8" width="0.75" height="0.75" fill="#222"/>
<rect x="381.6" y="80.4" width="0.75" height="0.75" fill="#222"/>
<rect x="385.3" y="81.3" width="0.75" height="0.75" fill="#222"/>
<rect x="406.3" y="69.6" width="0.75" height="0.75" fill="#222"/>
<rect x="382.6" y="77.3" width="0.75" height="0.75" fill="#222"/>
<rect x="406.2" y="71.2" width="0.75" height="0.75" fill="#222"/>
<rect x="408.7" y="69.4" width="0.75" height="0.75" fill="#222"/>
<rect x="394.0" y="73.1" width="0.75" height="0.75" fill="#222"/>
<rect x="390.3" y="74.6" width="0.75" height="0.75" fill="#222"/>
<rect x="390.2" y="73.9" width="0.75" height="0.75" fill="#222"/>
<rect x="399.6" y="71.7" width="0.75" height="0.75" fill="#222"/>
<rect x="405.2" y="69.4" width="0.75" height="0.75" fill="#222"/>
<rect x="394.6" y="72.1" width="0.75" height="0.75" fill="#222"/>
<rect x="380.6" y="78.9" width="0.75" height="0.75" fill="#222"/>
<rect x="399.9" y="81.5" width="0.75" height="0.75" fill="#222"/>
<rect x="385.2" y="81.1" width="0.75" height="0.75" fill="#222"/>
<rect x="386.5" y="75.5" width="0.75" height="0.75" fill="#222"/>
<rect x="399.0" y="71.7" width="0.75" height="0.75" fill="#222"/>
<rect x="383.2" y="79.1" width="0.75" height="0.75" fill="#222"/>
<rect x="405.4" y="70.1" width="0.75" height="0.75" fill="#222"/>
<rect x="388.2" y="74.4" width="0.75" height="0.75" fill="#222"/>
<rect x="405.1" y="70.0" width="0.75" height="0.75" fill="#222"/>
<rect x="405.3" y="70.0" width="0.75" height="0.75" fill="#222"/>
<rect x="384.1" y="81.2" width="0.75" height="0.75" fill="#222"/>
<rect x="400.8" y="80.0" width="0.75" height="0.75" fill="#222"/>
<rect x="389.6" y="79.9" width="0.75" height="0.75" fill="#222"/>
<rect x="396.6" y="77.7" width="0.75" height="0.75" fill="#222"/>
<rect x="399.6" y="71.2" width="0.75" height="0.75" fill="#222"/>
<rect x="384.2" y="75.0" width="0.75" height="0.75" fill="#222"/>
<rect x="409.3" y="69.5" width="0.75" height="0.75" fill="#222"/>
<rect x="408.8" y="53.4" width="0.75" height="0.75" fill="#222"/>
<rect x="414.2" y="54.8" width="0.75" height="0.75" fill="#222"/>
<rect x="399.8" y="69.6" width="0.75" height="0.75" fill="#222"/>
<rect x="415.4" y="48.9" width="0.75" height="0.75" fill="#222"/>
<rect x="415.6" y="49.0" width="0.75" height="0.75" fill="#222"/>
<rect x="407.3" y="56.4" width="0.75" height="0.75" fill="#222"/>
<rect x="404.7" y="60.1" width="0.75" height="0.75" fill="#222"/>
<rect x="401.7" y="64.7" width="0.75" height="0.75" fill="#222"/>
<rect x="403.5" y="61.9" width="0.75" height="0.75" fill="#222"/>
<rect x="397.9" y="68.0" width="0.75" height="0.75" fill="#222"/>
<rect x="396.4" y="68.3" width="0.75" height="0.75" fill="#222"/>
<rect x="420.4" y="52.5" width="0.75" height="0.75" fill="#222"/>
<rect x="414.9" y="52.9" width="0.75" height="0.75" fill="#222"/>
<rect x="398.5" y="67.0" width="0.75" height="0.75" fill="#222"/>
<rect x="399.1" y="65.2" width="0.75" height="0.75" fill="#222"/>
<rect x="419.1" y="50.1" width="0.75" height="0.75" fill="#222"/>
<rect x="414.4" y="53.3" width="0.75" height="0.75" fill="#222"/>
<rect x="417.8" y="52.3" width="0.75" height="0.75" fill="#222"/>
<rect x="403.5" y="63.8" width="0.75" height="0.75" fill="#222"/>
<rect x="400.7" y="68.6" width="0.75" height="0.75" fill="#222"/>
<rect x="415.2" y="50.6" width="0.75" height="0.75" fill="#222"/>
<rect x="403.5" y="58.9" width="0.75" height="0.75" fill="#222"/>
<rect x="416.8" y="49.1" width="0.75" height="0.75" fill="#222"/>
<rect x="410.0" y="54.6" width="0.75" height="0.75" fill="#222"/>
<rect x="409.9" y="54.9" width="0.75" height="0.75" fill="#222"/>
<rect x="416.8" y="52.8" width="0.75" height="0.75" fill="#222"/>
<rect x="403.5" y="65.1" width="0.75" height="0.75" fill="#222"/>
<rect x="399.6" y="67.9" width="0.75" height="0.75" fill="#222"/>
<rect x="398.7" y="67.2" width="0.75" height="0.75" fill="#222"/>
<rect x="399.0" y="69.8" width="0.75" height="0.75" fill="#222"/>
<rect x="414.7" y="52.4" width="0.75" height="0.75" fill="#222"/>
<rect x="420.1" y="48.1" width="0.75" height="0.75" fill="#222"/>
<rect x="399.2" y="70.1" width="0.75" height="0.75" fill="#222"/>
<rect x="402.3" y="64.2" width="0.75" height="0.75" fill="#222"/>
<rect x="397.2" y="68.8" width="0.75" height="0.75" fill="#222"/>
<rect x="411.5" y="59.0" width="0.75" height="0.75" fill="#222"/>
<rect x="408.6" y="57.8" width="0.75" height="0.75" fill="#222"/>
<rect x="409.9" y="57.4" width="0.75" height="0.75" fill="#222"/>
<rect x="400.0" y="70.3" width="0.75" height="0.75" fill="#222"/>
<rect x="405.2" y="61.6" width="0.75" height="0.75" fill="#222"/>
<rect x="417.9" y="48.4" width="0.75" height="0.75" fill="#222"/>
<rect x="400.6" y="71.5" width="0.75" height="0.75" fill="#222"/>
<rect x="402.6" y="66.5" width="0.75" height="0.75" fill="#222"/>
<rect x="396.6" y="67.9" width="0.75" height="0.75" fill="#222"/>
<rect x="398.1" y="69.3" width="0.75" height="0.75" fill="#222"/>
<rect x="410.6" y="55.4" width="0.75" height="0.75" fill="#222"/>
<rect x="417.2" y="49.9" width="0.75" height="0.75" fill="#222"/>
<rect x="404.3" y="67.0" width="0.75" height="0.75" fill="#222"/>
<rect x="416.9" y="46.0" width="0.75" height="0.75" fill="#222"/>
<rect x="406.8" y="56.1" width="0.75" height="0.75" fill="#222"/>
<rect x="404.0" y="64.9" width="0.75" height="0.75" fill="#222"/>
<rect x="398.0" y="67.5" width="0.75" height="0.75" fill="#222"/>
<rect x="399.8" y="65.3" width="0.75" height="0.75" fill="#222"/>
<rect x="416.7" y="47.0" width="0.75" height="0.75" fill="#222"/>
<rect x="405.3" y="66.0" width="0.75" height="0.75" fill="#222"/>
<rect x="411.4" y="59.6" width="0.75" height="0.75" fill="#222"/>
<rect x="401.1" y="65.6" width="0.75" height="0.75" fill="#222"/>
<rect x="403.9" y="61.7" width="0.75" height="0.75" fill="#222"/>
<rect x="406.1" y="63.1" width="0.75" height="0.75" fill="#222"/>
<rect x="418.6" y="51.8" width="0.75" height="0.75" fill="#222"/>
<rect x="419.9" y="48.7" width="0.75" height="0.75" fill="#222"/>
<rect x="402.5" y="64.6" width="0.75" height="0.75" fill="#222"/>
<rect x="401.6" y="62.6" width="0.75" height="0.75" fill="#222"/>
<rect x="400.9" y="66.9" width="0.75" height="0.75" fill="#222"/>
<rect x="405.9" y="67.5" width="0.75" height="0.75" fill="#222"/>
<rect x="405.1" y="59.8" width="0.75" height="0.75" fill="#222"/>
<rect x="395.5" y="66.2" width="0.75" height="0.75" fill="#222"/>
<rect x="417.2" y="46.2" width="0.75" height="0.75" fill="#222"/>
<rect x="398.3" y="68.5" width="0.75" height="0.75" fill="#222"/>
<rect x="404.3" y="66.1" width="0.75" height="0.75" fill="#222"/>
<rect x="411.9" y="58.9" width="0.75" height="0.75" fill="#222"/>
<rect x="400.0" y="65.9" width="0.75" height="0.75" fill="#222"/>
<rect x="405.8" y="60.1" width="0.75" height="0.75" fill="#222"/>
<rect x="400.6" y="70.9" width="0.75" height="0.75" fill="#222"/>
<rect x="409.5" y="58.5" width="0.75" height="0.75" fill="#222"/>
<rect x="417.6" y="52.4" width="0.75" height="0.75" fill="#222"/>
<rect x="403.5" y="63.5" width="0.75" height="0.75" fill="#222"/>
<rect x="403.0" y="66.4" width="0.75" height="0.75" fill="#222"/>
<rect x="401.3" y="66.3" width="0.75" height="0.75" fill="#222"/>
<rect x="400.4" y="70.6" width="0.75" height="0.75" fill="#222"/>
<rect x="396.9" y="68.0" width="0.75" height="0.75" fill="#222"/>
<rect x="409.1" y="54.9" width="0.75" height="0.75" fill="#222"/>
<rect x="411.5" y="57.5" width="0.75" height="0.75" fill="#222"/>
<rect x="414.8" y="47.4" width="0.75" height="0.75" fill="#222"/>
<rect x="406.6" y="62.1" width="0.75" height="0.75" fill="#222"/>
<rect x="401.4" y="69.0" width="0.75" height="0.75" fill="#222"/>
<rect x="404.9" y="63.9" width="0.75" height="0.75" fill="#222"/>
<rect x="418.8" y="49.4" width="0.75" height="0.75" fill="#222"/>
<rect x="409.5" y="59.8" width="0.75" height="0.75" fill="#222"/>
<rect x="409.1" y="58.8" width="0.75" height="0.75" fill="#222"/>
<rect x="396.7" y="66.5" width="0.75" height="0.75" fill="#222"/>
<rect x="400.1" y="66.9" width="0.75" height="0.75" fill="#222"/>
<rect x="412.3" y="52.8" width="0.75" height="0.75" fill="#222"/>
<rect x="419.4" y="52.6" width="0.75" height="0.75" fill="#222"/>
<rect x="404.4" y="65.1" width="0.75" height="0.75" fill="#222"/>
<rect x="416.6" y="50.7" width="0.75" height="0.75" fill="#222"/>
<rect x="403.3" y="65.1" width="0.75" height="0.75" fill="#222"/>
<rect x="405.2" y="61.5" width="0.75" height="0.75" fill="#222"/>
<rect x="403.5" y="67.9" width="0.75" height="0.75" fill="#222"/>
<rect x="411.8" y="53.5" width="0.75" height="0.75" fill="#222"/>
<rect x="406.2" y="66.9" width="0.75" height="0.75" fill="#222"/>
<rect x="420.3" y="50.7" width="0.75" height="0.75" fill="#222"/>
<rect x="409.1" y="55.6" width="0.75" height="0.75" fill="#222"/>
<rect x="404.7" y="61.7" width="0.75" height="0.75" fill="#222"/>
<rect x="403.3" y="64.9" width="0.75" height="0.75" fill="#222"/>
<rect x="399.9" y="68.9" width="0.75" height="0.75" fill="#222"/>
<rect x="406.4" y="64.1" width="0.75" height="0.75" fill="#222"/>
<rect x="407.9" y="58.5" width="0.75" height="0.75" fill="#222"/>
<rect x="403.0" y="62.0" width="0.75" height="0.75" fill="#222"/>
<rect x="412.6" y="55.0" width="0.75" height="0.75" fill="#222"/>
<rect x="404.4" y="57.0" width="0.75" height="0.75" fill="#222"/>
<rect x="417.5" y="47.8" width="0.75" height="0.75" fill="#222"/>
<rect x="397.9" y="68.2" width="0.75" height="0.75" fill="#222"/>
<rect x="404.8" y="59.5" width="0.75" height="0.75" fill="#222"/>
<rect x="417.5" y="56.7" width="0.75" height="0.75" fill="#222"/>
<rect x="417.5" y="52.1" width="0.75" height="0.75" fill="#222"/>
<rect x="412.9" y="54.5" width="0.75" height="0.75" fill="#222"/>
<rect x="410.6" y="59.0" width="0.75" height="0.75" fill="#222"/>
<rect x="405.2" y="62.2" width="0.75" height="0.75" fill="#222"/>
<rect x="410.2" y="55.6" width="0.75" height="0.75" fill="#222"/>
<rect x="413.6" y="55.5" width="0.75" height="0.75" fill="#222"/>
<rect x="412.0" y="52.1" width="0.75" height="0.75" fill="#222"/>
<rect x="408.2" y="57.2" width="0.75" height="0.75" fill="#222"/>
<rect x="416.1" y="54.3" width="0.75" height="0.75" fill="#222"/>
<rect x="398.0" y="69.6" width="0.75" height="0.75" fill="#222"/>
<rect x="412.1" y="57.8" width="0.75" height="0.75" fill="#222"/>
<rect x="417.6" y="51.0" width="0.75" height="0.75" fill="#222"/>
<rect x="412.0" y="52.0" width="0.75" height="0.75" fill="#222"/>
<rect x="410.2" y="56.1" width="0.75" height="0.75" fill="#222"/>
<rect x="418.4" y="52.3" width="0.75" height="0.75" fill="#222"/>
<rect x="402.0" y="62.3" width="0.75" height="0.75" fill="#222"/>
<rect x="401.9" y="68.1" width="0.75" height="0.75" fill="#222"/>
<rect x="413.9" y="52.6" width="0.75" height="0.75" fill="#222"/>
<rect x="395.3" y="62.0" width="0.75" height="0.75" fill="#222"/>
<rect x="416.1" y="55.8" width="0.75" height="0.75" fill="#222"/>
<rect x="409.9" y="54.0" width="0.75" height="0.75" fill="#222"/>
<rect x="406.4" y="48.2" width="0.75" height="0.75" fill="#222"/>
<rect x="417.4" y="58.6" width="0.75" height="0.75" fill="#222"/>
<rect x="397.0" y="66.6" width="0.75" height="0.75" fill="#222"/>
<rect x="393.1" y="67.6" width="0.75" height="0.75" fill="#222"/>
<rect x="400.6" y="50.4" width="0.75" height="0.75" fill="#222"/>
<rect x="409.8" y="53.4" width="0.75" height="0.75" fill="#222"/>
<rect x="396.1" y="70.1" width="0.75" height="0.75" fill="#222"/>
<rect x="388.3" y="64.2" width="0.75" height="0.75" fill="#222"/>
<rect x="396.1" y="65.9" width="0.75" height="0.75" fill="#222"/>
<rect x="394.7" y="56.0" width="0.75" height="0.75" fill="#222"/>
<rect x="409.4" y="62.1" width="0.75" height="0.75" fill="#222"/>
<rect x="409.5" y="56.5" width="0.75" height="0.75" fill="#222"/>
<rect x="400.9" y="69.6" width="0.75" height="0.75" fill="#222"/>
<rect x="410.7" y="65.3" width="0.75" height="0.75" fill="#222"/>
<rect x="407.2" y="54.4" width="0.75" height="0.75" fill="#222"/>
<rect x="390.9" y="57.4" width="0.75" height="0.75" fill="#222"/>
<rect x="411.2" y="60.6" width="0.75" height="0.75" fill="#222"/>
<rect x="395.5" y="63.7" width="0.75" height="0.75" fill="#222"/>
<rect x="387.6" y="63.5" width="0.75" height="0.75" fill="#222"/>
<rect x="399.5" y="68.2" width="0.75" height="0.75" fill="#222"/>
<rect x="391.7" y="67.4" width="0.75" height="0.75" fill="#222"/>
<rect x="405.1" y="71.3" width="0.75" height="0.75" fill="#222"/>
<rect x="398.9" y="70.1" width="0.75" height="0.75" fill="#222"/>
<rect x="404.8" y="48.3" width="0.75" height="0.75" fill="#222"/>
<rect x="400.7" y="64.2" width="0.75" height="0.75" fill="#222"/>
<rect x="396.1" y="64.6" width="0.75" height="0.75" fill="#222"/>
<rect x="403.1" y="66.7" width="0.75" height="0.75" fill="#222"/>
<rect x="407.4" y="56.6" width="0.75" height="0.75" fill="#222"/>
<rect x="414.9" y="58.9" width="0.75" height="0.75" fill="#222"/>
<rect x="400.4" y="68.3" width="0.75" height="0.75" fill="#222"/>
<rect x="410.1" y="69.5" width="0.75" height="0.75" fill="#222"/>
<rect x="399.1" y="68.5" width="0.75" height="0.75" fill="#222"/>
<rect x="400.1" y="61.0" width="0.75" height="0.75" fill="#222"/>
<rect x="396.3" y="67.7" width="0.75" height="0.75" fill="#222"/>
<rect x="410.9" y="50.2" width="0.75" height="0.75" fill="#222"/>
<rect x="404.2" y="54.3" width="0.75" height="0.75" fill="#222"/>
<rect x="401.3" y="64.8" width="0.75" height="0.75" fill="#222"/>
<rect x="398.0" y="69.9" width="0.75" height="0.75" fill="#222"/>
<rect x="400.2" y="62.6" width="0.75" height="0.75" fill="#222"/>
<rect x="414.4" y="52.0" width="0.75" height="0.75" fill="#222"/>
<rect x="394.8" y="63.4" width="0.75" height="0.75" fill="#222"/>
<rect x="402.2" y="58.8" width="0.75" height="0.75" fill="#222"/>
<rect x="399.7" y="62.1" width="0.75" height="0.75" fill="#222"/>
<rect x="402.6" y="47.7" width="0.75" height="0.75" fill="#222"/>
<rect x="421.7" y="72.6" width="0.75" height="0.75" fill="#222"/>
<rect x="410.0" y="73.9" width="0.75" height="0.75" fill="#222"/>
<rect x="420.1" y="73.7" width="0.75" height="0.75" fill="#222"/>
<rect x="406.3" y="74.0" width="0.75" height="0.75" fill="#222"/>
<rect x="411.0" y="71.6" width="0.75" height="0.75" fill="#222"/>
<rect x="409.9" y="75.5" width="0.75" height="0.75" fill="#222"/>
<rect x="408.1" y="76.7" width="0.75" height="0.75" fill="#222"/>
<rect x="409.0" y="74.5" width="0.75" height="0.75" fill="#222"/>
<rect x="411.4" y="75.6" width="0.75" height="0.75" fill="#222"/>
<rect x="413.0" y="75.1" width="0.75" height="0.75" fill="#222"/>
<rect x="406.2" y="75.8" width="0.75" height="0.75" fill="#222"/>
<rect x="421.1" y="75.5" width="0.75" height="0.75" fill="#222"/>
<rect x="410.5" y="72.4" width="0.75" height="0.75" fill="#222"/>
<rect x="414.9" y="77.9" width="0.75" height="0.75" fill="#222"/>
<rect x="411.2" y="72.3" width="0.75" height="0.75" fill="#222"/>
<rect x="410.1" y="75.7" width="0.75" height="0.75" fill="#222"/>
<rect x="406.5" y="75.9" width="0.75" height="0.75" fill="#222"/>
<rect x="409.9" y="72.7" width="0.75" height="0.75" fill="#222"/>
<rect x="407.2" y="73.9" width="0.75" height="0.75" fill="#222"/>
<rect x="408.1" y="74.1" width="0.75" height="0.75" fill="#222"/>
<rect x="418.6" y="75.5" width="0.75" height="0.75" fill="#222"/>
<rect x="407.0" y="75.9" width="0.75" height="0.75" fill="#222"/>
<rect x="408.7" y="72.6" width="0.75" height="0.75" fill="#222"/>
<rect x="420.6" y="75.1" width="0.75" height="0.75" fill="#222"/>
<rect x="418.4" y="76.7" width="0.75" height="0.75" fill="#222"/>
<rect x="398.7" y="84.2" width="0.75" height="0.75" fill="#222"/>
<rect x="396.3" y="83.2" width="0.75" height="0.75" fill="#222"/>
<rect x="402.7" y="85.7" width="0.75" height="0.75" fill="#222"/>
<rect x="401.8" y="82.3" width="0.75" height="0.75" fill="#222"/>
<rect x="398.3" y="78.3" width="0.75" height="0.75" fill="#222"/>
<rect x="399.4" y="84.9" width="0.75" height="0.75" fill="#222"/>
<rect x="401.9" y="82.7" width="0.75" height="0.75" fill="#222"/>
<rect x="397.2" y="82.8" width="0.75" height="0.75" fill="#222"/>
<rect x="395.9" y="77.3" width="0.75" height="0.75" fill="#222"/>
<rect x="405.8" y="80.4" width="0.75" height="0.75" fill="#222"/>
<rect x="399.9" y="83.1" width="0.75" height="0.75" fill="#222"/>
<rect x="401.3" y="87.2" width="0.75" height="0.75" fill="#222"/>
<rect x="400.7" y="80.9" width="0.75" height="0.75" fill="#222"/>
<rect x="402.8" y="79.9" width="0.75" height="0.75" fill="#222"/>
<rect x="403.5" y="85.2" width="0.75" height="0.75" fill="#222"/>
<rect x="401.9" y="84.1" width="0.75" height="0.75" fill="#222"/>
<rect x="396.4" y="78.8" width="0.75" height="0.75" fill="#222"/>
<rect x="402.3" y="79.2" width="0.75" height="0.75" fill="#222"/>
<rect x="395.0" y="83.8" width="0.75" height="0.75" fill="#222"/>
<rect x="397.0" y="79.4" width="0.75" height="0.75" fill="#222"/>
<text x="381.2" y="45.3" font-size="5.2" text-anchor="start" font-weight="normal" fill="#1a1a1a" stroke="#1a1a1a" stroke-width="0.15" >Q3</text>
<text x="381.2" y="50.5" font-size="5.2" text-anchor="start" font-weight="normal" fill="#1a1a1a" stroke="#1a1a1a" stroke-width="0.15" >0.80</text>
<text x="438.3" y="45.3" font-size="5.2" text-anchor="end" font-weight="normal" fill="#1a1a1a" stroke="#1a1a1a" stroke-width="0.15" >Q2</text>
<text x="438.3" y="50.5" font-size="5.2" text-anchor="end" font-weight="normal" fill="#1a1a1a" stroke="#1a1a1a" stroke-width="0.15" >0.56</text>
<text x="381.2" y="84.2" font-size="5.2" text-anchor="start" font-weight="normal" fill="#1a1a1a" stroke="#1a1a1a" stroke-width="0.15" >Q4</text>
<text x="381.2" y="89.7" font-size="5.2" text-anchor="start" font-weight="normal" fill="#1a1a1a" stroke="#1a1a1a" stroke-width="0.15" >98.4</text>
<text x="438.3" y="84.2" font-size="5.2" text-anchor="end" font-weight="normal" fill="#1a1a1a" stroke="#1a1a1a" stroke-width="0.15" >Q1</text>
<text x="438.3" y="89.7" font-size="5.2" text-anchor="end" font-weight="normal" fill="#1a1a1a" stroke="#1a1a1a" stroke-width="0.15" >0.20</text>
<rect x="447.3" y="40.3" width="60.5" height="51.400000000000006" fill="none" stroke="#111" stroke-width="1.1"/>
<line x1="470.5" y1="40.3" x2="470.5" y2="91.7" stroke="#444" stroke-width="0.6"/>
<line x1="447.3" y1="71.3" x2="507.8" y2="71.3" stroke="#444" stroke-width="0.6"/>
<polygon points="448.5,73.7 453,73.2 458,72.1 463,71.1 467,70.6 469.3,73.2 467.5,76.2 465,78.7 463,80.8 461,82.8 459,83.3 457,81.8 454,78.2 451,76.2 448.5,75.7" fill="#161616" stroke="#161616" stroke-width="0.8" stroke-linejoin="round"/>
<rect x="456.0" y="84.0" width="0.75" height="0.75" fill="#222"/>
<rect x="458.9" y="84.7" width="0.75" height="0.75" fill="#222"/>
<rect x="465.2" y="78.3" width="0.75" height="0.75" fill="#222"/>
<rect x="467.7" y="70.7" width="0.75" height="0.75" fill="#222"/>
<rect x="470.0" y="71.7" width="0.75" height="0.75" fill="#222"/>
<rect x="467.2" y="76.7" width="0.75" height="0.75" fill="#222"/>
<rect x="458.3" y="86.1" width="0.75" height="0.75" fill="#222"/>
<rect x="461.5" y="82.2" width="0.75" height="0.75" fill="#222"/>
<rect x="466.6" y="77.5" width="0.75" height="0.75" fill="#222"/>
<rect x="453.0" y="78.7" width="0.75" height="0.75" fill="#222"/>
<rect x="459.0" y="70.0" width="0.75" height="0.75" fill="#222"/>
<rect x="456.3" y="82.3" width="0.75" height="0.75" fill="#222"/>
<rect x="464.4" y="79.7" width="0.75" height="0.75" fill="#222"/>
<rect x="466.8" y="70.5" width="0.75" height="0.75" fill="#222"/>
<rect x="457.5" y="84.5" width="0.75" height="0.75" fill="#222"/>
<rect x="460.9" y="82.9" width="0.75" height="0.75" fill="#222"/>
<rect x="449.1" y="75.8" width="0.75" height="0.75" fill="#222"/>
<rect x="453.2" y="72.0" width="0.75" height="0.75" fill="#222"/>
<rect x="458.1" y="85.2" width="0.75" height="0.75" fill="#222"/>
<rect x="455.5" y="81.5" width="0.75" height="0.75" fill="#222"/>
<rect x="465.5" y="69.9" width="0.75" height="0.75" fill="#222"/>
<rect x="452.0" y="77.0" width="0.75" height="0.75" fill="#222"/>
<rect x="448.3" y="76.3" width="0.75" height="0.75" fill="#222"/>
<rect x="460.4" y="83.8" width="0.75" height="0.75" fill="#222"/>
<rect x="457.7" y="85.1" width="0.75" height="0.75" fill="#222"/>
<rect x="453.2" y="72.0" width="0.75" height="0.75" fill="#222"/>
<rect x="469.6" y="73.8" width="0.75" height="0.75" fill="#222"/>
<rect x="454.7" y="79.6" width="0.75" height="0.75" fill="#222"/>
<rect x="459.0" y="83.3" width="0.75" height="0.75" fill="#222"/>
<rect x="467.7" y="79.6" width="0.75" height="0.75" fill="#222"/>
<rect x="452.8" y="78.4" width="0.75" height="0.75" fill="#222"/>
<rect x="461.9" y="70.3" width="0.75" height="0.75" fill="#222"/>
<rect x="450.5" y="76.2" width="0.75" height="0.75" fill="#222"/>
<rect x="461.0" y="82.3" width="0.75" height="0.75" fill="#222"/>
<rect x="466.6" y="70.0" width="0.75" height="0.75" fill="#222"/>
<rect x="469.3" y="73.3" width="0.75" height="0.75" fill="#222"/>
<rect x="464.9" y="70.3" width="0.75" height="0.75" fill="#222"/>
<rect x="457.4" y="84.4" width="0.75" height="0.75" fill="#222"/>
<rect x="448.7" y="76.4" width="0.75" height="0.75" fill="#222"/>
<rect x="457.0" y="71.7" width="0.75" height="0.75" fill="#222"/>
<rect x="467.5" y="75.6" width="0.75" height="0.75" fill="#222"/>
<rect x="469.6" y="74.4" width="0.75" height="0.75" fill="#222"/>
<rect x="464.1" y="80.9" width="0.75" height="0.75" fill="#222"/>
<rect x="463.0" y="69.5" width="0.75" height="0.75" fill="#222"/>
<rect x="469.4" y="74.2" width="0.75" height="0.75" fill="#222"/>
<rect x="467.0" y="76.5" width="0.75" height="0.75" fill="#222"/>
<rect x="464.9" y="70.7" width="0.75" height="0.75" fill="#222"/>
<rect x="461.3" y="82.8" width="0.75" height="0.75" fill="#222"/>
<rect x="465.9" y="68.2" width="0.75" height="0.75" fill="#222"/>
<rect x="456.5" y="82.4" width="0.75" height="0.75" fill="#222"/>
<rect x="468.7" y="75.5" width="0.75" height="0.75" fill="#222"/>
<rect x="461.9" y="81.4" width="0.75" height="0.75" fill="#222"/>
<rect x="470.7" y="71.6" width="0.75" height="0.75" fill="#222"/>
<rect x="448.6" y="75.5" width="0.75" height="0.75" fill="#222"/>
<rect x="463.3" y="81.8" width="0.75" height="0.75" fill="#222"/>
<rect x="464.1" y="81.4" width="0.75" height="0.75" fill="#222"/>
<rect x="464.8" y="68.6" width="0.75" height="0.75" fill="#222"/>
<rect x="452.0" y="77.7" width="0.75" height="0.75" fill="#222"/>
<rect x="464.9" y="77.7" width="0.75" height="0.75" fill="#222"/>
<rect x="452.5" y="76.6" width="0.75" height="0.75" fill="#222"/>
<rect x="448.1" y="75.4" width="0.75" height="0.75" fill="#222"/>
<rect x="448.8" y="75.4" width="0.75" height="0.75" fill="#222"/>
<rect x="450.4" y="76.5" width="0.75" height="0.75" fill="#222"/>
<rect x="448.8" y="73.5" width="0.75" height="0.75" fill="#222"/>
<rect x="450.0" y="76.6" width="0.75" height="0.75" fill="#222"/>
<rect x="465.3" y="69.9" width="0.75" height="0.75" fill="#222"/>
<rect x="454.7" y="80.7" width="0.75" height="0.75" fill="#222"/>
<rect x="459.9" y="71.3" width="0.75" height="0.75" fill="#222"/>
<rect x="466.3" y="69.9" width="0.75" height="0.75" fill="#222"/>
<rect x="459.7" y="70.8" width="0.75" height="0.75" fill="#222"/>
<rect x="459.1" y="70.3" width="0.75" height="0.75" fill="#222"/>
<rect x="448.2" y="73.4" width="0.75" height="0.75" fill="#222"/>
<rect x="467.5" y="75.3" width="0.75" height="0.75" fill="#222"/>
<rect x="461.9" y="70.4" width="0.75" height="0.75" fill="#222"/>
<rect x="451.5" y="73.3" width="0.75" height="0.75" fill="#222"/>
<rect x="471.4" y="72.7" width="0.75" height="0.75" fill="#222"/>
<rect x="465.5" y="79.0" width="0.75" height="0.75" fill="#222"/>
<rect x="462.9" y="81.1" width="0.75" height="0.75" fill="#222"/>
<rect x="461.7" y="83.6" width="0.75" height="0.75" fill="#222"/>
<rect x="449.6" y="76.6" width="0.75" height="0.75" fill="#222"/>
<rect x="462.6" y="81.2" width="0.75" height="0.75" fill="#222"/>
<rect x="452.5" y="78.3" width="0.75" height="0.75" fill="#222"/>
<rect x="467.3" y="76.6" width="0.75" height="0.75" fill="#222"/>
<rect x="451.0" y="76.1" width="0.75" height="0.75" fill="#222"/>
<rect x="462.2" y="82.9" width="0.75" height="0.75" fill="#222"/>
<rect x="449.8" y="75.2" width="0.75" height="0.75" fill="#222"/>
<rect x="469.1" y="70.9" width="0.75" height="0.75" fill="#222"/>
<rect x="466.5" y="69.3" width="0.75" height="0.75" fill="#222"/>
<rect x="457.1" y="82.5" width="0.75" height="0.75" fill="#222"/>
<rect x="452.2" y="71.1" width="0.75" height="0.75" fill="#222"/>
<rect x="453.5" y="80.1" width="0.75" height="0.75" fill="#222"/>
<rect x="463.2" y="83.9" width="0.75" height="0.75" fill="#222"/>
<rect x="458.9" y="84.1" width="0.75" height="0.75" fill="#222"/>
<rect x="456.5" y="82.4" width="0.75" height="0.75" fill="#222"/>
<rect x="450.2" y="71.3" width="0.75" height="0.75" fill="#222"/>
<rect x="456.8" y="70.3" width="0.75" height="0.75" fill="#222"/>
<rect x="468.1" y="69.4" width="0.75" height="0.75" fill="#222"/>
<rect x="453.4" y="78.9" width="0.75" height="0.75" fill="#222"/>
<rect x="466.3" y="81.3" width="0.75" height="0.75" fill="#222"/>
<rect x="451.9" y="72.8" width="0.75" height="0.75" fill="#222"/>
<rect x="457.6" y="84.5" width="0.75" height="0.75" fill="#222"/>
<rect x="471.0" y="64.8" width="0.75" height="0.75" fill="#222"/>
<rect x="479.7" y="57.8" width="0.75" height="0.75" fill="#222"/>
<rect x="468.0" y="66.3" width="0.75" height="0.75" fill="#222"/>
<rect x="482.1" y="50.3" width="0.75" height="0.75" fill="#222"/>
<rect x="473.7" y="57.4" width="0.75" height="0.75" fill="#222"/>
<rect x="467.3" y="60.1" width="0.75" height="0.75" fill="#222"/>
<rect x="473.0" y="62.8" width="0.75" height="0.75" fill="#222"/>
<rect x="483.4" y="57.5" width="0.75" height="0.75" fill="#222"/>
<rect x="484.0" y="50.6" width="0.75" height="0.75" fill="#222"/>
<rect x="467.9" y="63.0" width="0.75" height="0.75" fill="#222"/>
<rect x="464.6" y="64.4" width="0.75" height="0.75" fill="#222"/>
<rect x="470.4" y="62.5" width="0.75" height="0.75" fill="#222"/>
<rect x="485.7" y="50.9" width="0.75" height="0.75" fill="#222"/>
<rect x="474.1" y="59.7" width="0.75" height="0.75" fill="#222"/>
<rect x="479.8" y="56.2" width="0.75" height="0.75" fill="#222"/>
<rect x="484.1" y="52.1" width="0.75" height="0.75" fill="#222"/>
<rect x="479.4" y="54.3" width="0.75" height="0.75" fill="#222"/>
<rect x="483.5" y="55.9" width="0.75" height="0.75" fill="#222"/>
<rect x="469.9" y="63.0" width="0.75" height="0.75" fill="#222"/>
<rect x="465.8" y="62.4" width="0.75" height="0.75" fill="#222"/>
<rect x="488.5" y="52.8" width="0.75" height="0.75" fill="#222"/>
<rect x="470.9" y="60.9" width="0.75" height="0.75" fill="#222"/>
<rect x="490.1" y="50.0" width="0.75" height="0.75" fill="#222"/>
<rect x="488.4" y="48.4" width="0.75" height="0.75" fill="#222"/>
<rect x="476.7" y="62.1" width="0.75" height="0.75" fill="#222"/>
<rect x="488.4" y="53.8" width="0.75" height="0.75" fill="#222"/>
<rect x="469.6" y="62.2" width="0.75" height="0.75" fill="#222"/>
<rect x="487.6" y="48.7" width="0.75" height="0.75" fill="#222"/>
<rect x="482.7" y="51.8" width="0.75" height="0.75" fill="#222"/>
<rect x="484.9" y="52.6" width="0.75" height="0.75" fill="#222"/>
<rect x="462.5" y="68.8" width="0.75" height="0.75" fill="#222"/>
<rect x="467.5" y="53.9" width="0.75" height="0.75" fill="#222"/>
<rect x="485.7" y="45.0" width="0.75" height="0.75" fill="#222"/>
<rect x="462.9" y="64.1" width="0.75" height="0.75" fill="#222"/>
<rect x="476.1" y="61.5" width="0.75" height="0.75" fill="#222"/>
<rect x="470.4" y="62.0" width="0.75" height="0.75" fill="#222"/>
<rect x="458.9" y="63.8" width="0.75" height="0.75" fill="#222"/>
<rect x="469.2" y="62.4" width="0.75" height="0.75" fill="#222"/>
<rect x="467.2" y="61.5" width="0.75" height="0.75" fill="#222"/>
<rect x="473.1" y="58.2" width="0.75" height="0.75" fill="#222"/>
<rect x="479.6" y="51.9" width="0.75" height="0.75" fill="#222"/>
<rect x="487.8" y="47.8" width="0.75" height="0.75" fill="#222"/>
<rect x="465.6" y="61.6" width="0.75" height="0.75" fill="#222"/>
<rect x="471.4" y="59.2" width="0.75" height="0.75" fill="#222"/>
<rect x="467.9" y="60.7" width="0.75" height="0.75" fill="#222"/>
<rect x="476.2" y="59.9" width="0.75" height="0.75" fill="#222"/>
<rect x="474.6" y="57.3" width="0.75" height="0.75" fill="#222"/>
<rect x="462.0" y="68.0" width="0.75" height="0.75" fill="#222"/>
<rect x="487.8" y="47.1" width="0.75" height="0.75" fill="#222"/>
<rect x="463.8" y="68.4" width="0.75" height="0.75" fill="#222"/>
<rect x="480.3" y="54.9" width="0.75" height="0.75" fill="#222"/>
<rect x="470.4" y="60.0" width="0.75" height="0.75" fill="#222"/>
<rect x="476.6" y="60.1" width="0.75" height="0.75" fill="#222"/>
<rect x="466.4" y="63.7" width="0.75" height="0.75" fill="#222"/>
<rect x="467.7" y="70.6" width="0.75" height="0.75" fill="#222"/>
<rect x="463.1" y="67.3" width="0.75" height="0.75" fill="#222"/>
<rect x="483.6" y="52.4" width="0.75" height="0.75" fill="#222"/>
<rect x="479.2" y="55.6" width="0.75" height="0.75" fill="#222"/>
<rect x="473.7" y="63.0" width="0.75" height="0.75" fill="#222"/>
<rect x="474.6" y="59.0" width="0.75" height="0.75" fill="#222"/>
<rect x="458.6" y="67.1" width="0.75" height="0.75" fill="#222"/>
<rect x="472.4" y="54.7" width="0.75" height="0.75" fill="#222"/>
<rect x="477.3" y="65.0" width="0.75" height="0.75" fill="#222"/>
<rect x="465.9" y="70.4" width="0.75" height="0.75" fill="#222"/>
<rect x="479.5" y="62.7" width="0.75" height="0.75" fill="#222"/>
<rect x="470.6" y="61.0" width="0.75" height="0.75" fill="#222"/>
<rect x="471.7" y="55.4" width="0.75" height="0.75" fill="#222"/>
<rect x="461.3" y="68.6" width="0.75" height="0.75" fill="#222"/>
<rect x="467.2" y="59.2" width="0.75" height="0.75" fill="#222"/>
<rect x="474.3" y="56.6" width="0.75" height="0.75" fill="#222"/>
<rect x="475.7" y="63.7" width="0.75" height="0.75" fill="#222"/>
<rect x="470.6" y="58.8" width="0.75" height="0.75" fill="#222"/>
<rect x="457.2" y="64.3" width="0.75" height="0.75" fill="#222"/>
<rect x="463.2" y="66.5" width="0.75" height="0.75" fill="#222"/>
<rect x="456.0" y="62.8" width="0.75" height="0.75" fill="#222"/>
<rect x="459.3" y="71.1" width="0.75" height="0.75" fill="#222"/>
<rect x="456.9" y="65.7" width="0.75" height="0.75" fill="#222"/>
<rect x="471.6" y="66.8" width="0.75" height="0.75" fill="#222"/>
<rect x="467.7" y="56.7" width="0.75" height="0.75" fill="#222"/>
<rect x="464.3" y="59.7" width="0.75" height="0.75" fill="#222"/>
<rect x="460.9" y="65.4" width="0.75" height="0.75" fill="#222"/>
<rect x="467.1" y="51.4" width="0.75" height="0.75" fill="#222"/>
<rect x="471.4" y="54.9" width="0.75" height="0.75" fill="#222"/>
<rect x="474.3" y="58.1" width="0.75" height="0.75" fill="#222"/>
<rect x="478.3" y="58.6" width="0.75" height="0.75" fill="#222"/>
<rect x="474.7" y="57.4" width="0.75" height="0.75" fill="#222"/>
<rect x="465.1" y="66.9" width="0.75" height="0.75" fill="#222"/>
<rect x="477.0" y="57.8" width="0.75" height="0.75" fill="#222"/>
<rect x="469.5" y="61.7" width="0.75" height="0.75" fill="#222"/>
<rect x="467.9" y="58.6" width="0.75" height="0.75" fill="#222"/>
<rect x="474.3" y="74.5" width="0.75" height="0.75" fill="#222"/>
<rect x="470.2" y="77.3" width="0.75" height="0.75" fill="#222"/>
<rect x="468.9" y="77.1" width="0.75" height="0.75" fill="#222"/>
<rect x="471.2" y="76.4" width="0.75" height="0.75" fill="#222"/>
<rect x="478.7" y="73.6" width="0.75" height="0.75" fill="#222"/>
<rect x="472.9" y="78.2" width="0.75" height="0.75" fill="#222"/>
<rect x="478.8" y="73.8" width="0.75" height="0.75" fill="#222"/>
<rect x="467.8" y="74.8" width="0.75" height="0.75" fill="#222"/>
<rect x="468.6" y="79.0" width="0.75" height="0.75" fill="#222"/>
<rect x="469.5" y="70.3" width="0.75" height="0.75" fill="#222"/>
<rect x="465.9" y="74.7" width="0.75" height="0.75" fill="#222"/>
<rect x="465.6" y="76.5" width="0.75" height="0.75" fill="#222"/>
<rect x="469.9" y="74.1" width="0.75" height="0.75" fill="#222"/>
<rect x="473.3" y="70.8" width="0.75" height="0.75" fill="#222"/>
<rect x="475.8" y="77.5" width="0.75" height="0.75" fill="#222"/>
<rect x="461.0" y="86.3" width="0.75" height="0.75" fill="#222"/>
<rect x="460.1" y="84.2" width="0.75" height="0.75" fill="#222"/>
<rect x="459.4" y="88.1" width="0.75" height="0.75" fill="#222"/>
<rect x="456.5" y="83.9" width="0.75" height="0.75" fill="#222"/>
<rect x="458.5" y="89.0" width="0.75" height="0.75" fill="#222"/>
<rect x="456.5" y="83.0" width="0.75" height="0.75" fill="#222"/>
<rect x="456.6" y="86.0" width="0.75" height="0.75" fill="#222"/>
<rect x="455.1" y="85.0" width="0.75" height="0.75" fill="#222"/>
<rect x="456.2" y="83.2" width="0.75" height="0.75" fill="#222"/>
<rect x="453.5" y="85.9" width="0.75" height="0.75" fill="#222"/>
<rect x="460.1" y="87.7" width="0.75" height="0.75" fill="#222"/>
<rect x="456.6" y="89.3" width="0.75" height="0.75" fill="#222"/>
<rect x="457.3" y="83.6" width="0.75" height="0.75" fill="#222"/>
<rect x="458.0" y="82.9" width="0.75" height="0.75" fill="#222"/>
<rect x="462.6" y="86.0" width="0.75" height="0.75" fill="#222"/>
<rect x="457.6" y="88.3" width="0.75" height="0.75" fill="#222"/>
<rect x="460.0" y="88.5" width="0.75" height="0.75" fill="#222"/>
<text x="449.1" y="45.3" font-size="5.2" text-anchor="start" font-weight="normal" fill="#1a1a1a" stroke="#1a1a1a" stroke-width="0.15" >Q1</text>
<text x="449.1" y="50.5" font-size="5.2" text-anchor="start" font-weight="normal" fill="#1a1a1a" stroke="#1a1a1a" stroke-width="0.15" >2.39</text>
<text x="505.1" y="45.3" font-size="5.2" text-anchor="end" font-weight="normal" fill="#1a1a1a" stroke="#1a1a1a" stroke-width="0.15" >Q2</text>
<text x="505.1" y="50.5" font-size="5.2" text-anchor="end" font-weight="normal" fill="#1a1a1a" stroke="#1a1a1a" stroke-width="0.15" >0.88</text>
<text x="449.1" y="84.2" font-size="5.2" text-anchor="start" font-weight="normal" fill="#1a1a1a" stroke="#1a1a1a" stroke-width="0.15" >Q4</text>
<text x="449.1" y="89.7" font-size="5.2" text-anchor="start" font-weight="normal" fill="#1a1a1a" stroke="#1a1a1a" stroke-width="0.15" >96.8</text>
<text x="505.1" y="84.2" font-size="5.2" text-anchor="end" font-weight="normal" fill="#1a1a1a" stroke="#1a1a1a" stroke-width="0.15" >Q3</text>
<text x="505.1" y="89.7" font-size="5.2" text-anchor="end" font-weight="normal" fill="#1a1a1a" stroke="#1a1a1a" stroke-width="0.15" >0.100</text>
<text x="6.6" y="142.5" font-size="11.2" text-anchor="start" font-weight="bold" fill="#111" >C</text>
<line x1="39.8" y1="155.9" x2="39.8" y2="203.1" stroke="#222" stroke-width="1.1"/>
<line x1="38.3" y1="203.1" x2="41.3" y2="203.1" stroke="#1a1a1a" stroke-width="1"/>
<line x1="37.599999999999994" y1="155.9" x2="39.8" y2="155.9" stroke="#222" stroke-width="0.9"/>
<text x="34.199999999999996" y="158.20000000000002" font-size="6.8" text-anchor="end" font-weight="normal" fill="#1a1a1a" stroke="#1a1a1a" stroke-width="0.25" >4</text>
<line x1="37.599999999999994" y1="169.1" x2="39.8" y2="169.1" stroke="#222" stroke-width="0.9"/>
<text x="34.199999999999996" y="171.4" font-size="6.8" text-anchor="end" font-weight="normal" fill="#1a1a1a" stroke="#1a1a1a" stroke-width="0.25" >3</text>
<line x1="37.599999999999994" y1="182.6" x2="39.8" y2="182.6" stroke="#222" stroke-width="0.9"/>
<text x="34.199999999999996" y="184.9" font-size="6.8" text-anchor="end" font-weight="normal" fill="#1a1a1a" stroke="#1a1a1a" stroke-width="0.25" >2</text>
<line x1="37.599999999999994" y1="196.1" x2="39.8" y2="196.1" stroke="#222" stroke-width="0.9"/>
<text x="34.199999999999996" y="198.4" font-size="6.8" text-anchor="end" font-weight="normal" fill="#1a1a1a" stroke="#1a1a1a" stroke-width="0.25" >1</text>
<line x1="39.8" y1="210.6" x2="39.8" y2="257.4" stroke="#222" stroke-width="1.1"/>
<line x1="38.3" y1="210.6" x2="41.3" y2="210.6" stroke="#1a1a1a" stroke-width="1"/>
<line x1="37.599999999999994" y1="210.4" x2="39.8" y2="210.4" stroke="#222" stroke-width="0.9"/>
<text x="34.199999999999996" y="212.70000000000002" font-size="6.8" text-anchor="end" font-weight="normal" fill="#1a1a1a" stroke="#1a1a1a" stroke-width="0.25" >0.5</text>
<line x1="37.599999999999994" y1="220" x2="39.8" y2="220" stroke="#222" stroke-width="0.9"/>
<text x="34.199999999999996" y="222.3" font-size="6.8" text-anchor="end" font-weight="normal" fill="#1a1a1a" stroke="#1a1a1a" stroke-width="0.25" >0.4</text>
<line x1="37.599999999999994" y1="229.3" x2="39.8" y2="229.3" stroke="#222" stroke-width="0.9"/>
<text x="34.199999999999996" y="231.60000000000002" font-size="6.8" text-anchor="end" font-weight="normal" fill="#1a1a1a" stroke="#1a1a1a" stroke-width="0.25" >0.3</text>
<line x1="37.599999999999994" y1="238.7" x2="39.8" y2="238.7" stroke="#222" stroke-width="0.9"/>
<text x="34.199999999999996" y="241.0" font-size="6.8" text-anchor="end" font-weight="normal" fill="#1a1a1a" stroke="#1a1a1a" stroke-width="0.25" >0.2</text>
<line x1="37.599999999999994" y1="248.3" x2="39.8" y2="248.3" stroke="#222" stroke-width="0.9"/>
<text x="34.199999999999996" y="250.60000000000002" font-size="6.8" text-anchor="end" font-weight="normal" fill="#1a1a1a" stroke="#1a1a1a" stroke-width="0.25" >0.1</text>
<line x1="37.599999999999994" y1="257.6" x2="39.8" y2="257.6" stroke="#222" stroke-width="0.9"/>
<text x="34.199999999999996" y="259.90000000000003" font-size="6.8" text-anchor="end" font-weight="normal" fill="#1a1a1a" stroke="#1a1a1a" stroke-width="0.25" >0.0</text>
<text x="87.4" y="146.0" font-size="7.5" text-anchor="middle" font-weight="normal" fill="#1a1a1a" stroke="#1a1a1a" stroke-width="0.4" textLength="19.5" lengthAdjust="spacingAndGlyphs">CD3+</text>
<g transform="translate(16.8,204) rotate(-90)"><g transform="scale(0.82,1)"><text x="0" y="0" font-size="7.9" text-anchor="middle" fill="#1a1a1a" stroke="#1a1a1a" stroke-width="0.2">%CD3+TNFa+INFg+</text></g></g>
<line x1="39.3" y1="257.4" x2="164.10000000000002" y2="257.4" stroke="#222" stroke-width="1.1"/>
<rect x="50.8" y="240" width="19.3" height="17.399999999999977" fill="#2ab2ec"/>
<line x1="60.449999999999996" y1="257.4" x2="60.449999999999996" y2="259.6" stroke="#222" stroke-width="0.9"/>
<text x="60.449999999999996" y="269.1" font-size="7" text-anchor="middle" font-weight="bold" fill="#222" >Actin</text>
<rect x="81.3" y="244.4" width="19.0" height="12.999999999999972" fill="#cc1f3c"/>
<line x1="90.8" y1="257.4" x2="90.8" y2="259.6" stroke="#222" stroke-width="0.9"/>
<text x="90.8" y="269.1" font-size="7" text-anchor="middle" font-weight="bold" fill="#222" >WT1</text>
<rect x="111.9" y="200.9" width="19.0" height="56.49999999999997" fill="#165a97"/>
<line x1="121.4" y1="257.4" x2="121.4" y2="259.6" stroke="#222" stroke-width="0.9"/>
<text x="121.4" y="269.1" font-size="7" text-anchor="middle" font-weight="bold" fill="#222" >PRAME</text>
<rect x="142.8" y="226" width="19.3" height="31.399999999999977" fill="#3cb44b"/>
<line x1="152.45000000000002" y1="257.4" x2="152.45000000000002" y2="259.6" stroke="#222" stroke-width="0.9"/>
<text x="152.45000000000002" y="269.1" font-size="7" text-anchor="middle" font-weight="bold" fill="#222" >Survivin</text>
<line x1="60.449999999999996" y1="233.7" x2="60.449999999999996" y2="246" stroke="#222" stroke-width="0.9"/>
<line x1="55.849999999999994" y1="233.7" x2="65.05" y2="233.7" stroke="#222" stroke-width="0.9"/>
<line x1="55.849999999999994" y1="246" x2="65.05" y2="246" stroke="#222" stroke-width="0.9"/>
<circle cx="56" cy="237.7" r="2.3125" fill="#1a1111"/>
<path d="M62.150000000000006,232.75 L66.65,237.25 M66.65,232.75 L62.150000000000006,237.25" stroke="#1a1111" stroke-width="1.1"/>
<circle cx="56" cy="245.3" r="2.3125" fill="#1a1111"/>
<path d="M64.4,240.95 L67.025,245.7 L61.775000000000006,245.7 Z" fill="#1a1111"/>
<rect x="62.275000000000006" y="249.275" width="4.25" height="4.25" fill="#1a1111"/>
<circle cx="56" cy="253.4" r="2.3125" fill="#1a1111"/>
<path d="M60.4,207.7 L62.65,210.2 L60.4,212.7 L58.15,210.2 Z" fill="#1a1111"/>
<line x1="90.8" y1="240" x2="90.8" y2="250" stroke="#222" stroke-width="0.9"/>
<line x1="86.2" y1="240" x2="95.39999999999999" y2="240" stroke="#222" stroke-width="0.9"/>
<line x1="86.2" y1="250" x2="95.39999999999999" y2="250" stroke="#222" stroke-width="0.9"/>
<path d="M86.5,231.35 L89.125,236.1 L83.875,236.1 Z" fill="#1a1111"/>
<path d="M92.95,231.05 L97.45,235.55 M97.45,231.05 L92.95,235.55" stroke="#1a1111" stroke-width="1.1"/>
<circle cx="90.8" cy="237.7" r="2.3125" fill="#1a1111"/>
<path d="M94.8,241.9 L97.05,244.4 L94.8,246.9 L92.55,244.4 Z" fill="#1a1111"/>
<circle cx="86.8" cy="247" r="2.3125" fill="#1a1111"/>
<circle cx="94.8" cy="252.8" r="2.3125" fill="#1a1111"/>
<rect x="84.675" y="253.375" width="4.25" height="4.25" fill="#1a1111"/>
<line x1="121.4" y1="194.8" x2="121.4" y2="231.1" stroke="#222" stroke-width="0.9"/>
<line x1="116.80000000000001" y1="194.8" x2="126.0" y2="194.8" stroke="#222" stroke-width="0.9"/>
<line x1="116.80000000000001" y1="231.1" x2="126.0" y2="231.1" stroke="#222" stroke-width="0.9"/>
<circle cx="121.5" cy="199.5" r="2.3125" fill="#1a1111"/>
<path d="M119.25,212.05 L123.75,216.55 M123.75,212.05 L119.25,216.55" stroke="#1a1111" stroke-width="1.1"/>
<path d="M121.5,217.95 L124.125,222.7 L118.875,222.7 Z" fill="#1a1111"/>
<circle cx="121.5" cy="244.1" r="2.3125" fill="#1a1111"/>
<circle cx="121.5" cy="248.6" r="2.3125" fill="#1a1111"/>
<rect x="119.375" y="251.175" width="4.25" height="4.25" fill="#1a1111"/>
<path d="M121.5,164.4 L123.75,166.9 L121.5,169.4 L119.25,166.9 Z" fill="#1a1111"/>
<line x1="152.45000000000002" y1="213.7" x2="152.45000000000002" y2="236" stroke="#222" stroke-width="0.9"/>
<line x1="147.85000000000002" y1="213.7" x2="157.05" y2="213.7" stroke="#222" stroke-width="0.9"/>
<line x1="147.85000000000002" y1="236" x2="157.05" y2="236" stroke="#222" stroke-width="0.9"/>
<circle cx="147.5" cy="198.4" r="2.3125" fill="#1a1111"/>
<path d="M155.9,195.9 L158.15,198.4 L155.9,200.9 L153.65,198.4 Z" fill="#1a1111"/>
<path d="M150.15,212.05 L154.65,216.55 M154.65,212.05 L150.15,216.55" stroke="#1a1111" stroke-width="1.1"/>
<circle cx="152.4" cy="238" r="2.3125" fill="#1a1111"/>
<path d="M148,243.05 L150.625,247.8 L145.375,247.8 Z" fill="#1a1111"/>
<circle cx="157" cy="249.7" r="2.3125" fill="#1a1111"/>
<rect x="150.275" y="252.575" width="4.25" height="4.25" fill="#1a1111"/>
<path d="M58.6,164.6 L58.6,158.9 L116.2,158.9 L116.2,164.6" fill="none" stroke="#333" stroke-width="0.9"/>
<text x="86.3" y="157.2" font-size="8" text-anchor="middle" font-weight="bold" fill="#222" >*</text>
<line x1="208.1" y1="155.7" x2="208.1" y2="202.3" stroke="#222" stroke-width="1.1"/>
<line x1="206.6" y1="202.3" x2="209.6" y2="202.3" stroke="#1a1a1a" stroke-width="1"/>
<line x1="205.9" y1="155.7" x2="208.1" y2="155.7" stroke="#222" stroke-width="0.9"/>
<text x="202.5" y="158.0" font-size="6.8" text-anchor="end" font-weight="normal" fill="#1a1a1a" stroke="#1a1a1a" stroke-width="0.25" >5</text>
<line x1="205.9" y1="165.9" x2="208.1" y2="165.9" stroke="#222" stroke-width="0.9"/>
<text x="202.5" y="168.20000000000002" font-size="6.8" text-anchor="end" font-weight="normal" fill="#1a1a1a" stroke="#1a1a1a" stroke-width="0.25" >4</text>
<line x1="205.9" y1="176.3" x2="208.1" y2="176.3" stroke="#222" stroke-width="0.9"/>
<text x="202.5" y="178.60000000000002" font-size="6.8" text-anchor="end" font-weight="normal" fill="#1a1a1a" stroke="#1a1a1a" stroke-width="0.25" >3</text>
<line x1="205.9" y1="187" x2="208.1" y2="187" stroke="#222" stroke-width="0.9"/>
<text x="202.5" y="189.3" font-size="6.8" text-anchor="end" font-weight="normal" fill="#1a1a1a" stroke="#1a1a1a" stroke-width="0.25" >2</text>
<line x1="205.9" y1="197.6" x2="208.1" y2="197.6" stroke="#222" stroke-width="0.9"/>
<text x="202.5" y="199.9" font-size="6.8" text-anchor="end" font-weight="normal" fill="#1a1a1a" stroke="#1a1a1a" stroke-width="0.25" >1</text>
<line x1="208.1" y1="210.2" x2="208.1" y2="257.4" stroke="#222" stroke-width="1.1"/>
<line x1="206.6" y1="210.2" x2="209.6" y2="210.2" stroke="#1a1a1a" stroke-width="1"/>
<line x1="205.9" y1="210.6" x2="208.1" y2="210.6" stroke="#222" stroke-width="0.9"/>
<text x="202.5" y="212.9" font-size="6.8" text-anchor="end" font-weight="normal" fill="#1a1a1a" stroke="#1a1a1a" stroke-width="0.25" >0.5</text>
<line x1="205.9" y1="219.8" x2="208.1" y2="219.8" stroke="#222" stroke-width="0.9"/>
<text x="202.5" y="222.10000000000002" font-size="6.8" text-anchor="end" font-weight="normal" fill="#1a1a1a" stroke="#1a1a1a" stroke-width="0.25" >0.4</text>
<line x1="205.9" y1="229" x2="208.1" y2="229" stroke="#222" stroke-width="0.9"/>
<text x="202.5" y="231.3" font-size="6.8" text-anchor="end" font-weight="normal" fill="#1a1a1a" stroke="#1a1a1a" stroke-width="0.25" >0.3</text>
<line x1="205.9" y1="238.7" x2="208.1" y2="238.7" stroke="#222" stroke-width="0.9"/>
<text x="202.5" y="241.0" font-size="6.8" text-anchor="end" font-weight="normal" fill="#1a1a1a" stroke="#1a1a1a" stroke-width="0.25" >0.2</text>
<line x1="205.9" y1="247.9" x2="208.1" y2="247.9" stroke="#222" stroke-width="0.9"/>
<text x="202.5" y="250.20000000000002" font-size="6.8" text-anchor="end" font-weight="normal" fill="#1a1a1a" stroke="#1a1a1a" stroke-width="0.25" >0.1</text>
<line x1="205.9" y1="257.6" x2="208.1" y2="257.6" stroke="#222" stroke-width="0.9"/>
<text x="202.5" y="259.90000000000003" font-size="6.8" text-anchor="end" font-weight="normal" fill="#1a1a1a" stroke="#1a1a1a" stroke-width="0.25" >0.0</text>
<text x="263.2" y="146.0" font-size="7.5" text-anchor="middle" font-weight="normal" fill="#1a1a1a" stroke="#1a1a1a" stroke-width="0.4" textLength="19.5" lengthAdjust="spacingAndGlyphs">CD8+</text>
<g transform="translate(186.1,206.9) rotate(-90)"><g transform="scale(0.82,1)"><text x="0" y="0" font-size="7.9" text-anchor="middle" fill="#1a1a1a" stroke="#1a1a1a" stroke-width="0.2">%CD3+CD8+TNFa+INFg+</text></g></g>
<line x1="207.6" y1="257.4" x2="332.5" y2="257.4" stroke="#222" stroke-width="1.1"/>
<rect x="219" y="242.8" width="19" height="14.599999999999966" fill="#2ab2ec"/>
<line x1="228.5" y1="257.4" x2="228.5" y2="259.6" stroke="#222" stroke-width="0.9"/>
<text x="228.5" y="269.1" font-size="7" text-anchor="middle" font-weight="bold" fill="#222" >Actin</text>
<rect x="250.1" y="247.1" width="19" height="10.299999999999983" fill="#cc1f3c"/>
<line x1="259.6" y1="257.4" x2="259.6" y2="259.6" stroke="#222" stroke-width="0.9"/>
<text x="259.6" y="269.1" font-size="7" text-anchor="middle" font-weight="bold" fill="#222" >WT1</text>
<rect x="280.6" y="197" width="19.2" height="60.39999999999998" fill="#165a97"/>
<line x1="290.20000000000005" y1="257.4" x2="290.20000000000005" y2="259.6" stroke="#222" stroke-width="0.9"/>
<text x="290.20000000000005" y="269.1" font-size="7" text-anchor="middle" font-weight="bold" fill="#222" >PRAME</text>
<rect x="311.2" y="240.7" width="19.3" height="16.69999999999999" fill="#3cb44b"/>
<line x1="320.84999999999997" y1="257.4" x2="320.84999999999997" y2="259.6" stroke="#222" stroke-width="0.9"/>
<text x="320.84999999999997" y="269.1" font-size="7" text-anchor="middle" font-weight="bold" fill="#222" >Survivin</text>
<line x1="228.5" y1="236.7" x2="228.5" y2="248" stroke="#222" stroke-width="0.9"/>
<line x1="223.9" y1="236.7" x2="233.1" y2="236.7" stroke="#222" stroke-width="0.9"/>
<line x1="223.9" y1="248" x2="233.1" y2="248" stroke="#222" stroke-width="0.9"/>
<path d="M228.7,208.3 L230.95,210.8 L228.7,213.3 L226.45,210.8 Z" fill="#1a1111"/>
<circle cx="228.7" cy="234.3" r="2.3125" fill="#1a1111"/>
<path d="M223.5,247.95 L226.125,243.2 L220.875,243.2 Z" fill="#1a1111"/>
<rect x="230.475" y="243.075" width="4.25" height="4.25" fill="#1a1111"/>
<path d="M222.25,246.15 L226.75,250.65 M226.75,246.15 L222.25,250.65" stroke="#1a1111" stroke-width="1.1"/>
<circle cx="224.5" cy="253.7" r="2.3125" fill="#1a1111"/>
<path d="M232.6,250.95 L235.225,255.7 L229.975,255.7 Z" fill="#1a1111"/>
<line x1="259.6" y1="241.8" x2="259.6" y2="252" stroke="#222" stroke-width="0.9"/>
<line x1="255.00000000000003" y1="241.8" x2="264.20000000000005" y2="241.8" stroke="#222" stroke-width="0.9"/>
<line x1="255.00000000000003" y1="252" x2="264.20000000000005" y2="252" stroke="#222" stroke-width="0.9"/>
<path d="M259.5,227.25 L262.125,222.5 L256.875,222.5 Z" fill="#1a1111"/>
<circle cx="259.5" cy="237.7" r="2.3125" fill="#1a1111"/>
<path d="M257,247.3 L259.25,249.8 L257,252.3 L254.75,249.8 Z" fill="#1a1111"/>
<circle cx="252" cy="249.8" r="2.3125" fill="#1a1111"/>
<path d="M261.8,250.65 L264.425,255.4 L259.175,255.4 Z" fill="#1a1111"/>
<path d="M265.95,248.85 L270.45,253.35 M270.45,248.85 L265.95,253.35" stroke="#1a1111" stroke-width="1.1"/>
<rect x="249.075" y="252.475" width="4.25" height="4.25" fill="#1a1111"/>
<circle cx="251.2" cy="252" r="2.3125" fill="#1a1111"/>
<line x1="290.20000000000005" y1="190.4" x2="290.20000000000005" y2="205" stroke="#222" stroke-width="0.9"/>
<line x1="285.6" y1="190.4" x2="294.80000000000007" y2="190.4" stroke="#222" stroke-width="0.9"/>
<line x1="285.6" y1="205" x2="294.80000000000007" y2="205" stroke="#222" stroke-width="0.9"/>
<path d="M290,164.2 L292.25,166.7 L290,169.2 L287.75,166.7 Z" fill="#1a1111"/>
<path d="M290,189.45 L292.625,184.7 L287.375,184.7 Z" fill="#1a1111"/>
<circle cx="287" cy="200.7" r="2.3125" fill="#1a1111"/>
<circle cx="293" cy="201.9" r="2.3125" fill="#1a1111"/>
<path d="M280.75,253.15 L285.25,257.65 M285.25,253.15 L280.75,257.65" stroke="#1a1111" stroke-width="1.1"/>
<path d="M290,250.65 L292.625,255.4 L287.375,255.4 Z" fill="#1a1111"/>
<rect x="295.075" y="253.075" width="4.25" height="4.25" fill="#1a1111"/>
<line x1="320.84999999999997" y1="230.4" x2="320.84999999999997" y2="250" stroke="#222" stroke-width="0.9"/>
<line x1="316.24999999999994" y1="230.4" x2="325.45" y2="230.4" stroke="#222" stroke-width="0.9"/>
<line x1="316.24999999999994" y1="250" x2="325.45" y2="250" stroke="#222" stroke-width="0.9"/>
<path d="M321,197.1 L323.25,199.6 L321,202.1 L318.75,199.6 Z" fill="#1a1111"/>
<circle cx="321" cy="234" r="2.3125" fill="#1a1111"/>
<path d="M321,249.75 L323.625,245.0 L318.375,245.0 Z" fill="#1a1111"/>
<rect x="311.375" y="252.875" width="4.25" height="4.25" fill="#1a1111"/>
<path d="M318.5,252.05 L321.125,256.8 L315.875,256.8 Z" fill="#1a1111"/>
<circle cx="324" cy="255.2" r="2.3125" fill="#1a1111"/>
<path d="M326.35,252.95 L330.85,257.45 M330.85,252.95 L326.35,257.45" stroke="#1a1111" stroke-width="1.1"/>
<path d="M228.6,171.5 L228.6,164.7 L282.2,164.7 L282.2,171.5" fill="none" stroke="#333" stroke-width="0.9"/>
<text x="255.5" y="162.8" font-size="8" text-anchor="middle" font-weight="bold" fill="#222" >**</text>
<line x1="381.9" y1="155.7" x2="381.9" y2="202.6" stroke="#222" stroke-width="1.1"/>
<line x1="380.4" y1="202.6" x2="383.4" y2="202.6" stroke="#1a1a1a" stroke-width="1"/>
<line x1="379.7" y1="155.7" x2="381.9" y2="155.7" stroke="#222" stroke-width="0.9"/>
<text x="376.29999999999995" y="158.0" font-size="6.8" text-anchor="end" font-weight="normal" fill="#1a1a1a" stroke="#1a1a1a" stroke-width="0.25" >2.5</text>
<line x1="379.7" y1="167.2" x2="381.9" y2="167.2" stroke="#222" stroke-width="0.9"/>
<text x="376.29999999999995" y="169.5" font-size="6.8" text-anchor="end" font-weight="normal" fill="#1a1a1a" stroke="#1a1a1a" stroke-width="0.25" >2.0</text>
<line x1="379.7" y1="179.3" x2="381.9" y2="179.3" stroke="#222" stroke-width="0.9"/>
<text x="376.29999999999995" y="181.60000000000002" font-size="6.8" text-anchor="end" font-weight="normal" fill="#1a1a1a" stroke="#1a1a1a" stroke-width="0.25" >1.5</text>
<line x1="379.7" y1="190.8" x2="381.9" y2="190.8" stroke="#222" stroke-width="0.9"/>
<text x="376.29999999999995" y="193.10000000000002" font-size="6.8" text-anchor="end" font-weight="normal" fill="#1a1a1a" stroke="#1a1a1a" stroke-width="0.25" >1.0</text>
<line x1="379.7" y1="202.2" x2="381.9" y2="202.2" stroke="#222" stroke-width="0.9"/>
<text x="376.29999999999995" y="204.5" font-size="6.8" text-anchor="end" font-weight="normal" fill="#1a1a1a" stroke="#1a1a1a" stroke-width="0.25" >0.5</text>
<line x1="381.9" y1="210.3" x2="381.9" y2="257.4" stroke="#222" stroke-width="1.1"/>
<line x1="380.4" y1="210.3" x2="383.4" y2="210.3" stroke="#1a1a1a" stroke-width="1"/>
<line x1="379.7" y1="210.3" x2="381.9" y2="210.3" stroke="#222" stroke-width="0.9"/>
<text x="376.29999999999995" y="212.60000000000002" font-size="6.8" text-anchor="end" font-weight="normal" fill="#1a1a1a" stroke="#1a1a1a" stroke-width="0.25" >0.5</text>
<line x1="379.7" y1="219.8" x2="381.9" y2="219.8" stroke="#222" stroke-width="0.9"/>
<text x="376.29999999999995" y="222.10000000000002" font-size="6.8" text-anchor="end" font-weight="normal" fill="#1a1a1a" stroke="#1a1a1a" stroke-width="0.25" >0.4</text>
<line x1="379.7" y1="229" x2="381.9" y2="229" stroke="#222" stroke-width="0.9"/>
<text x="376.29999999999995" y="231.3" font-size="6.8" text-anchor="end" font-weight="normal" fill="#1a1a1a" stroke="#1a1a1a" stroke-width="0.25" >0.3</text>
<line x1="379.7" y1="238.8" x2="381.9" y2="238.8" stroke="#222" stroke-width="0.9"/>
<text x="376.29999999999995" y="241.10000000000002" font-size="6.8" text-anchor="end" font-weight="normal" fill="#1a1a1a" stroke="#1a1a1a" stroke-width="0.25" >0.2</text>
<line x1="379.7" y1="248" x2="381.9" y2="248" stroke="#222" stroke-width="0.9"/>
<text x="376.29999999999995" y="250.3" font-size="6.8" text-anchor="end" font-weight="normal" fill="#1a1a1a" stroke="#1a1a1a" stroke-width="0.25" >0.1</text>
<line x1="379.7" y1="257.8" x2="381.9" y2="257.8" stroke="#222" stroke-width="0.9"/>
<text x="376.29999999999995" y="260.1" font-size="6.8" text-anchor="end" font-weight="normal" fill="#1a1a1a" stroke="#1a1a1a" stroke-width="0.25" >0.0</text>
<text x="433.9" y="146.0" font-size="7.5" text-anchor="middle" font-weight="normal" fill="#1a1a1a" stroke="#1a1a1a" stroke-width="0.4" textLength="19.5" lengthAdjust="spacingAndGlyphs">CD4+</text>
<g transform="translate(354.4,199.9) rotate(-90)"><g transform="scale(0.82,1)"><text x="0" y="0" font-size="7.9" text-anchor="middle" fill="#1a1a1a" stroke="#1a1a1a" stroke-width="0.2">%CD3+CD4+TNFa+INFg+</text></g></g>
<line x1="381.4" y1="257.4" x2="504.6" y2="257.4" stroke="#222" stroke-width="1.1"/>
<rect x="392.8" y="246.1" width="19.4" height="11.299999999999983" fill="#2ab2ec"/>
<line x1="402.5" y1="257.4" x2="402.5" y2="259.6" stroke="#222" stroke-width="0.9"/>
<text x="402.5" y="269.1" font-size="7" text-anchor="middle" font-weight="bold" fill="#222" >Actin</text>
<rect x="423.1" y="217.2" width="19" height="40.19999999999999" fill="#cc1f3c"/>
<line x1="432.6" y1="257.4" x2="432.6" y2="259.6" stroke="#222" stroke-width="0.9"/>
<text x="432.6" y="269.1" font-size="7" text-anchor="middle" font-weight="bold" fill="#222" >WT1</text>
<rect x="453.1" y="229" width="19.2" height="28.399999999999977" fill="#165a97"/>
<line x1="462.70000000000005" y1="257.4" x2="462.70000000000005" y2="259.6" stroke="#222" stroke-width="0.9"/>
<text x="462.70000000000005" y="269.1" font-size="7" text-anchor="middle" font-weight="bold" fill="#222" >PRAME</text>
<rect x="483.3" y="248.6" width="19.3" height="8.799999999999983" fill="#3cb44b"/>
<line x1="492.95" y1="257.4" x2="492.95" y2="259.6" stroke="#222" stroke-width="0.9"/>
<text x="492.95" y="269.1" font-size="7" text-anchor="middle" font-weight="bold" fill="#222" >Survivin</text>
<line x1="402.5" y1="242.5" x2="402.5" y2="249" stroke="#222" stroke-width="0.9"/>
<line x1="397.9" y1="242.5" x2="407.1" y2="242.5" stroke="#222" stroke-width="0.9"/>
<line x1="397.9" y1="249" x2="407.1" y2="249" stroke="#222" stroke-width="0.9"/>
<circle cx="395" cy="246.7" r="2.3125" fill="#1a1111"/>
<path d="M400,240.85 L402.625,245.6 L397.375,245.6 Z" fill="#1a1111"/>
<circle cx="405" cy="240.2" r="2.3125" fill="#1a1111"/>
<rect x="402.875" y="242.075" width="4.25" height="4.25" fill="#1a1111"/>
<path d="M401.75,246.75 L406.25,251.25 M406.25,246.75 L401.75,251.25" stroke="#1a1111" stroke-width="1.1"/>
<circle cx="399" cy="252" r="2.3125" fill="#1a1111"/>
<path d="M409.6,248.55 L412.225,243.8 L406.975,243.8 Z" fill="#1a1111"/>
<line x1="432.6" y1="197.6" x2="432.6" y2="243" stroke="#222" stroke-width="0.9"/>
<line x1="428.0" y1="197.6" x2="437.20000000000005" y2="197.6" stroke="#222" stroke-width="0.9"/>
<line x1="428.0" y1="243" x2="437.20000000000005" y2="243" stroke="#222" stroke-width="0.9"/>
<path d="M432,161.65 L434.625,166.4 L429.375,166.4 Z" fill="#1a1111"/>
<path d="M426.75,227.85 L431.25,232.35 M431.25,227.85 L426.75,232.35" stroke="#1a1111" stroke-width="1.1"/>
<circle cx="437" cy="227.2" r="2.3125" fill="#1a1111"/>
<rect x="429.875" y="237.175" width="4.25" height="4.25" fill="#1a1111"/>
<circle cx="432" cy="243" r="2.3125" fill="#1a1111"/>
<path d="M428,258.75 L430.625,254.0 L425.375,254.0 Z" fill="#1a1111"/>
<circle cx="437" cy="256" r="2.3125" fill="#1a1111"/>
<line x1="462.70000000000005" y1="214.6" x2="462.70000000000005" y2="243.4" stroke="#222" stroke-width="0.9"/>
<line x1="458.1" y1="214.6" x2="467.30000000000007" y2="214.6" stroke="#222" stroke-width="0.9"/>
<line x1="458.1" y1="243.4" x2="467.30000000000007" y2="243.4" stroke="#222" stroke-width="0.9"/>
<circle cx="458.5" cy="193.2" r="2.3125" fill="#1a1111"/>
<circle cx="466" cy="195" r="2.3125" fill="#1a1111"/>
<path d="M462.5,229.25 L465.125,234.0 L459.875,234.0 Z" fill="#1a1111"/>
<rect x="460.375" y="239.875" width="4.25" height="4.25" fill="#1a1111"/>
<circle cx="462" cy="248.6" r="2.3125" fill="#1a1111"/>
<path d="M452.25,253.75 L456.75,258.25 M456.75,253.75 L452.25,258.25" stroke="#1a1111" stroke-width="1.1"/>
<path d="M470,258.75 L472.625,254.0 L467.375,254.0 Z" fill="#1a1111"/>
<line x1="492.95" y1="245" x2="492.95" y2="252" stroke="#222" stroke-width="0.9"/>
<line x1="488.34999999999997" y1="245" x2="497.55" y2="245" stroke="#222" stroke-width="0.9"/>
<line x1="488.34999999999997" y1="252" x2="497.55" y2="252" stroke="#222" stroke-width="0.9"/>
<rect x="490.875" y="235.375" width="4.25" height="4.25" fill="#1a1111"/>
<circle cx="489" cy="245" r="2.3125" fill="#1a1111"/>
<path d="M497,242.25 L499.625,247.0 L494.375,247.0 Z" fill="#1a1111"/>
<circle cx="486" cy="250" r="2.3125" fill="#1a1111"/>
<circle cx="500" cy="250" r="2.3125" fill="#1a1111"/>
<path d="M490.75,250.75 L495.25,255.25 M495.25,250.75 L490.75,255.25" stroke="#1a1111" stroke-width="1.1"/>
<path d="M493,258.75 L495.625,254.0 L490.375,254.0 Z" fill="#1a1111"/>
<path d="M0,0 L0,0 L0,0 L0,0" fill="none" stroke="#333" stroke-width="0.9"/>
<text x="0" y="0" font-size="8" text-anchor="middle" font-weight="bold" fill="#222" ></text>
</svg></body></html>
